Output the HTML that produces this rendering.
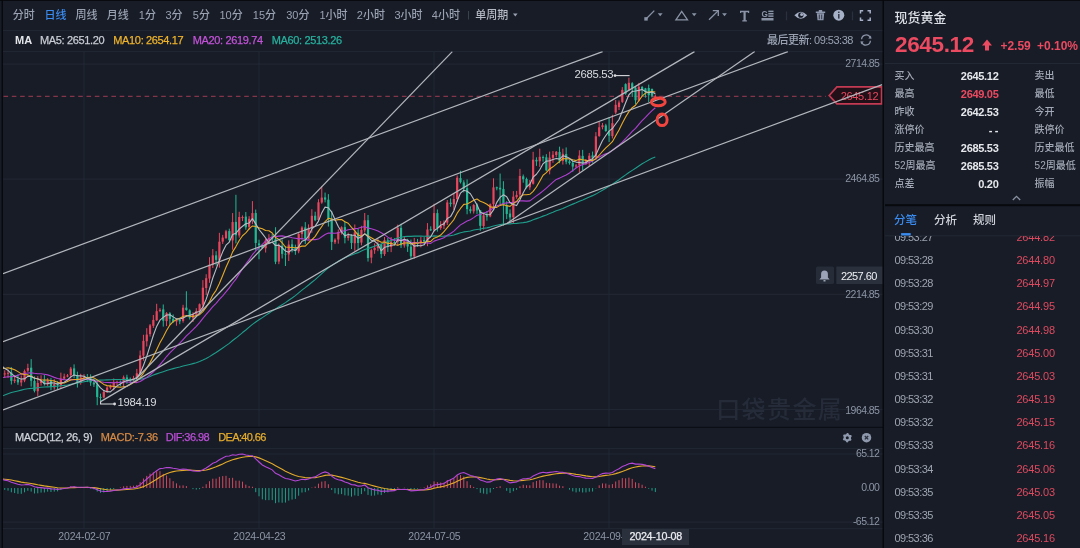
<!DOCTYPE html>
<html><head><meta charset="utf-8"><style>
*{margin:0;padding:0;box-sizing:border-box}
html,body{width:1080px;height:548px;overflow:hidden;background:#171c27}
body{position:relative;font-family:"Liberation Sans","Noto Sans CJK SC",sans-serif}
.t{position:absolute;white-space:nowrap;line-height:1}
#ticks{position:absolute;left:885px;top:236px;width:195px;height:312px;overflow:hidden}
</style></head><body>
<svg width="1080" height="548" viewBox="0 0 1080 548" style="position:absolute;left:0;top:0">
<defs><clipPath id="cm"><rect x="3" y="51.2" width="880" height="375.8"/></clipPath><clipPath id="cd"><rect x="3" y="449" width="825" height="79.5"/></clipPath></defs>
<rect x="0" y="0" width="1080" height="548" fill="#171c27"/>
<line x1="3" x2="883" y1="30.6" y2="30.6" stroke="#232835" stroke-width="1"/>
<line x1="3" x2="883" y1="51.6" y2="51.6" stroke="#232835" stroke-width="1"/>
<line x1="3" x2="883" y1="64.1" y2="64.1" stroke="#232835" stroke-width="1"/>
<line x1="3" x2="883" y1="179.1" y2="179.1" stroke="#232835" stroke-width="1"/>
<line x1="3" x2="883" y1="294.3" y2="294.3" stroke="#232835" stroke-width="1"/>
<line x1="3" x2="883" y1="409.6" y2="409.6" stroke="#232835" stroke-width="1"/>
<line x1="3" x2="883" y1="448.4" y2="448.4" stroke="#232835" stroke-width="1"/>
<line x1="3" x2="883" y1="454.0" y2="454.0" stroke="#232835" stroke-width="1"/>
<line x1="3" x2="883" y1="522.1" y2="522.1" stroke="#232835" stroke-width="1"/>
<line x1="3" x2="883" y1="528.7" y2="528.7" stroke="#232835" stroke-width="1"/>
<line x1="84" x2="84" y1="52" y2="427" stroke="#232835" stroke-width="1"/>
<line x1="84" x2="84" y1="448.4" y2="528.7" stroke="#232835" stroke-width="1"/>
<line x1="259" x2="259" y1="52" y2="427" stroke="#232835" stroke-width="1"/>
<line x1="259" x2="259" y1="448.4" y2="528.7" stroke="#232835" stroke-width="1"/>
<line x1="434" x2="434" y1="52" y2="427" stroke="#232835" stroke-width="1"/>
<line x1="434" x2="434" y1="448.4" y2="528.7" stroke="#232835" stroke-width="1"/>
<line x1="609" x2="609" y1="52" y2="427" stroke="#232835" stroke-width="1"/>
<line x1="609" x2="609" y1="448.4" y2="528.7" stroke="#232835" stroke-width="1"/>
<line x1="3" x2="883" y1="427.4" y2="427.4" stroke="#0b0e14" stroke-width="1.2"/>
<line x1="3.5" x2="826" y1="96.3" y2="96.3" stroke="#83364a" stroke-width="1.2" stroke-dasharray="4.6 3.7"/>
<g clip-path="url(#cm)">
<line x1="1.44" x2="1.44" y1="360.15" y2="380.12" stroke="#22b894" stroke-width="1"/>
<rect x="0.34" y="366.41" width="2.2" height="7.81" fill="#22b894"/>
<line x1="4.74" x2="4.74" y1="370.31" y2="377.92" stroke="#e8465c" stroke-width="1"/>
<rect x="3.64" y="373.44" width="2.2" height="1.00" fill="#e8465c"/>
<line x1="8.04" x2="8.04" y1="369.58" y2="377.99" stroke="#e8465c" stroke-width="1"/>
<rect x="6.94" y="372.80" width="2.2" height="1.03" fill="#e8465c"/>
<line x1="11.34" x2="11.34" y1="367.08" y2="384.54" stroke="#22b894" stroke-width="1"/>
<rect x="10.24" y="372.54" width="2.2" height="8.28" fill="#22b894"/>
<line x1="14.65" x2="14.65" y1="375.78" y2="383.13" stroke="#e8465c" stroke-width="1"/>
<rect x="13.55" y="379.62" width="2.2" height="1.49" fill="#e8465c"/>
<line x1="17.95" x2="17.95" y1="374.25" y2="384.86" stroke="#22b894" stroke-width="1"/>
<rect x="16.85" y="379.34" width="2.2" height="3.04" fill="#22b894"/>
<line x1="21.25" x2="21.25" y1="375.50" y2="386.24" stroke="#e8465c" stroke-width="1"/>
<rect x="20.15" y="380.22" width="2.2" height="2.26" fill="#e8465c"/>
<line x1="24.55" x2="24.55" y1="369.54" y2="382.23" stroke="#e8465c" stroke-width="1"/>
<rect x="23.45" y="371.09" width="2.2" height="9.43" fill="#e8465c"/>
<line x1="27.86" x2="27.86" y1="363.76" y2="372.05" stroke="#e8465c" stroke-width="1"/>
<rect x="26.76" y="368.00" width="2.2" height="2.71" fill="#e8465c"/>
<line x1="31.16" x2="31.16" y1="359.15" y2="386.68" stroke="#22b894" stroke-width="1"/>
<rect x="30.06" y="367.70" width="2.2" height="13.02" fill="#22b894"/>
<line x1="34.46" x2="34.46" y1="376.36" y2="392.42" stroke="#22b894" stroke-width="1"/>
<rect x="33.36" y="380.86" width="2.2" height="9.96" fill="#22b894"/>
<line x1="37.77" x2="37.77" y1="376.12" y2="396.09" stroke="#e8465c" stroke-width="1"/>
<rect x="36.66" y="382.98" width="2.2" height="8.28" fill="#e8465c"/>
<line x1="41.07" x2="41.07" y1="375.28" y2="385.58" stroke="#e8465c" stroke-width="1"/>
<rect x="39.97" y="380.12" width="2.2" height="2.83" fill="#e8465c"/>
<line x1="44.37" x2="44.37" y1="375.06" y2="385.58" stroke="#22b894" stroke-width="1"/>
<rect x="43.27" y="379.78" width="2.2" height="4.08" fill="#22b894"/>
<line x1="47.67" x2="47.67" y1="378.12" y2="385.93" stroke="#e8465c" stroke-width="1"/>
<rect x="46.57" y="380.22" width="2.2" height="3.87" fill="#e8465c"/>
<line x1="50.97" x2="50.97" y1="377.92" y2="390.19" stroke="#22b894" stroke-width="1"/>
<rect x="49.87" y="380.14" width="2.2" height="6.90" fill="#22b894"/>
<line x1="54.28" x2="54.28" y1="379.20" y2="389.70" stroke="#e8465c" stroke-width="1"/>
<rect x="53.18" y="384.09" width="2.2" height="3.29" fill="#e8465c"/>
<line x1="57.58" x2="57.58" y1="381.19" y2="389.41" stroke="#22b894" stroke-width="1"/>
<rect x="56.48" y="384.13" width="2.2" height="1.11" fill="#22b894"/>
<line x1="60.88" x2="60.88" y1="372.64" y2="388.91" stroke="#e8465c" stroke-width="1"/>
<rect x="59.78" y="378.65" width="2.2" height="6.66" fill="#e8465c"/>
<line x1="64.19" x2="64.19" y1="373.64" y2="379.39" stroke="#e8465c" stroke-width="1"/>
<rect x="63.09" y="376.53" width="2.2" height="2.09" fill="#e8465c"/>
<line x1="67.49" x2="67.49" y1="374.02" y2="377.29" stroke="#e8465c" stroke-width="1"/>
<rect x="66.39" y="375.42" width="2.2" height="1.16" fill="#e8465c"/>
<line x1="70.79" x2="70.79" y1="366.92" y2="378.56" stroke="#e8465c" stroke-width="1"/>
<rect x="69.69" y="368.60" width="2.2" height="6.55" fill="#e8465c"/>
<line x1="74.09" x2="74.09" y1="364.37" y2="378.25" stroke="#22b894" stroke-width="1"/>
<rect x="72.99" y="368.39" width="2.2" height="7.21" fill="#22b894"/>
<line x1="77.39" x2="77.39" y1="371.67" y2="387.59" stroke="#22b894" stroke-width="1"/>
<rect x="76.30" y="375.59" width="2.2" height="6.75" fill="#22b894"/>
<line x1="80.70" x2="80.70" y1="373.74" y2="384.71" stroke="#e8465c" stroke-width="1"/>
<rect x="79.60" y="377.40" width="2.2" height="5.29" fill="#e8465c"/>
<line x1="84.00" x2="84.00" y1="374.16" y2="380.07" stroke="#e8465c" stroke-width="1"/>
<rect x="82.90" y="377.54" width="2.2" height="1.00" fill="#e8465c"/>
<line x1="87.30" x2="87.30" y1="374.02" y2="382.08" stroke="#22b894" stroke-width="1"/>
<rect x="86.20" y="377.49" width="2.2" height="1.00" fill="#22b894"/>
<line x1="90.61" x2="90.61" y1="374.34" y2="385.80" stroke="#22b894" stroke-width="1"/>
<rect x="89.51" y="378.10" width="2.2" height="4.46" fill="#22b894"/>
<line x1="93.91" x2="93.91" y1="379.02" y2="386.96" stroke="#22b894" stroke-width="1"/>
<rect x="92.81" y="382.56" width="2.2" height="1.85" fill="#22b894"/>
<line x1="97.21" x2="97.21" y1="379.91" y2="405.22" stroke="#22b894" stroke-width="1"/>
<rect x="96.11" y="384.38" width="2.2" height="12.71" fill="#22b894"/>
<line x1="100.51" x2="100.51" y1="393.67" y2="400.96" stroke="#22b894" stroke-width="1"/>
<rect x="99.41" y="396.90" width="2.2" height="1.00" fill="#22b894"/>
<line x1="103.81" x2="103.81" y1="389.99" y2="398.28" stroke="#e8465c" stroke-width="1"/>
<rect x="102.72" y="391.97" width="2.2" height="5.48" fill="#e8465c"/>
<line x1="107.12" x2="107.12" y1="386.23" y2="392.94" stroke="#e8465c" stroke-width="1"/>
<rect x="106.02" y="387.59" width="2.2" height="4.07" fill="#e8465c"/>
<line x1="110.42" x2="110.42" y1="384.66" y2="389.33" stroke="#e8465c" stroke-width="1"/>
<rect x="109.32" y="385.65" width="2.2" height="1.99" fill="#e8465c"/>
<line x1="113.72" x2="113.72" y1="378.46" y2="390.47" stroke="#e8465c" stroke-width="1"/>
<rect x="112.62" y="382.34" width="2.2" height="3.71" fill="#e8465c"/>
<line x1="117.03" x2="117.03" y1="380.64" y2="385.16" stroke="#e8465c" stroke-width="1"/>
<rect x="115.93" y="381.88" width="2.2" height="1.00" fill="#e8465c"/>
<line x1="120.33" x2="120.33" y1="380.51" y2="386.33" stroke="#22b894" stroke-width="1"/>
<rect x="119.23" y="381.73" width="2.2" height="1.00" fill="#22b894"/>
<line x1="123.63" x2="123.63" y1="375.51" y2="387.48" stroke="#e8465c" stroke-width="1"/>
<rect x="122.53" y="377.31" width="2.2" height="4.64" fill="#e8465c"/>
<line x1="126.93" x2="126.93" y1="374.73" y2="383.88" stroke="#22b894" stroke-width="1"/>
<rect x="125.83" y="377.41" width="2.2" height="1.75" fill="#22b894"/>
<line x1="130.24" x2="130.24" y1="377.54" y2="382.29" stroke="#22b894" stroke-width="1"/>
<rect x="129.14" y="378.85" width="2.2" height="1.09" fill="#22b894"/>
<line x1="133.54" x2="133.54" y1="375.81" y2="381.43" stroke="#e8465c" stroke-width="1"/>
<rect x="132.44" y="377.91" width="2.2" height="2.01" fill="#e8465c"/>
<line x1="136.84" x2="136.84" y1="368.91" y2="378.87" stroke="#e8465c" stroke-width="1"/>
<rect x="135.74" y="373.30" width="2.2" height="4.78" fill="#e8465c"/>
<line x1="140.14" x2="140.14" y1="350.51" y2="374.12" stroke="#e8465c" stroke-width="1"/>
<rect x="139.04" y="355.47" width="2.2" height="17.79" fill="#e8465c"/>
<line x1="143.44" x2="143.44" y1="334.78" y2="360.73" stroke="#e8465c" stroke-width="1"/>
<rect x="142.34" y="340.86" width="2.2" height="14.77" fill="#e8465c"/>
<line x1="146.75" x2="146.75" y1="328.19" y2="346.51" stroke="#e8465c" stroke-width="1"/>
<rect x="145.65" y="334.59" width="2.2" height="6.67" fill="#e8465c"/>
<line x1="150.05" x2="150.05" y1="323.99" y2="336.58" stroke="#e8465c" stroke-width="1"/>
<rect x="148.95" y="325.37" width="2.2" height="8.78" fill="#e8465c"/>
<line x1="153.35" x2="153.35" y1="314.95" y2="327.97" stroke="#e8465c" stroke-width="1"/>
<rect x="152.25" y="319.93" width="2.2" height="5.86" fill="#e8465c"/>
<line x1="156.66" x2="156.66" y1="303.80" y2="320.85" stroke="#e8465c" stroke-width="1"/>
<rect x="155.56" y="311.22" width="2.2" height="9.05" fill="#e8465c"/>
<line x1="159.96" x2="159.96" y1="308.10" y2="312.19" stroke="#e8465c" stroke-width="1"/>
<rect x="158.86" y="309.79" width="2.2" height="1.13" fill="#e8465c"/>
<line x1="163.26" x2="163.26" y1="304.48" y2="326.60" stroke="#22b894" stroke-width="1"/>
<rect x="162.16" y="309.40" width="2.2" height="11.31" fill="#22b894"/>
<line x1="166.56" x2="166.56" y1="312.11" y2="326.07" stroke="#e8465c" stroke-width="1"/>
<rect x="165.46" y="313.16" width="2.2" height="7.94" fill="#e8465c"/>
<line x1="169.87" x2="169.87" y1="312.14" y2="324.72" stroke="#22b894" stroke-width="1"/>
<rect x="168.77" y="313.22" width="2.2" height="5.69" fill="#22b894"/>
<line x1="173.17" x2="173.17" y1="314.47" y2="322.94" stroke="#22b894" stroke-width="1"/>
<rect x="172.07" y="318.79" width="2.2" height="3.07" fill="#22b894"/>
<line x1="176.47" x2="176.47" y1="318.83" y2="325.74" stroke="#e8465c" stroke-width="1"/>
<rect x="175.37" y="319.79" width="2.2" height="1.75" fill="#e8465c"/>
<line x1="179.77" x2="179.77" y1="317.80" y2="324.20" stroke="#22b894" stroke-width="1"/>
<rect x="178.67" y="319.83" width="2.2" height="1.48" fill="#22b894"/>
<line x1="183.07" x2="183.07" y1="304.81" y2="322.66" stroke="#e8465c" stroke-width="1"/>
<rect x="181.97" y="307.67" width="2.2" height="13.25" fill="#e8465c"/>
<line x1="186.38" x2="186.38" y1="291.26" y2="310.71" stroke="#22b894" stroke-width="1"/>
<rect x="185.28" y="307.65" width="2.2" height="2.42" fill="#22b894"/>
<line x1="189.68" x2="189.68" y1="309.39" y2="319.53" stroke="#22b894" stroke-width="1"/>
<rect x="188.58" y="310.38" width="2.2" height="7.25" fill="#22b894"/>
<line x1="192.98" x2="192.98" y1="312.29" y2="322.02" stroke="#e8465c" stroke-width="1"/>
<rect x="191.88" y="314.40" width="2.2" height="3.40" fill="#e8465c"/>
<line x1="196.29" x2="196.29" y1="308.15" y2="316.11" stroke="#e8465c" stroke-width="1"/>
<rect x="195.19" y="311.17" width="2.2" height="3.42" fill="#e8465c"/>
<line x1="199.59" x2="199.59" y1="303.46" y2="313.49" stroke="#e8465c" stroke-width="1"/>
<rect x="198.49" y="304.26" width="2.2" height="7.05" fill="#e8465c"/>
<line x1="202.89" x2="202.89" y1="280.13" y2="310.58" stroke="#e8465c" stroke-width="1"/>
<rect x="201.79" y="287.71" width="2.2" height="16.99" fill="#e8465c"/>
<line x1="206.19" x2="206.19" y1="274.21" y2="295.14" stroke="#e8465c" stroke-width="1"/>
<rect x="205.09" y="278.17" width="2.2" height="9.83" fill="#e8465c"/>
<line x1="209.50" x2="209.50" y1="257.17" y2="282.82" stroke="#e8465c" stroke-width="1"/>
<rect x="208.40" y="264.67" width="2.2" height="13.87" fill="#e8465c"/>
<line x1="212.80" x2="212.80" y1="249.06" y2="268.00" stroke="#e8465c" stroke-width="1"/>
<rect x="211.70" y="255.36" width="2.2" height="9.31" fill="#e8465c"/>
<line x1="216.10" x2="216.10" y1="251.19" y2="265.52" stroke="#22b894" stroke-width="1"/>
<rect x="215.00" y="255.35" width="2.2" height="4.52" fill="#22b894"/>
<line x1="219.40" x2="219.40" y1="232.82" y2="267.68" stroke="#e8465c" stroke-width="1"/>
<rect x="218.30" y="241.72" width="2.2" height="18.30" fill="#e8465c"/>
<line x1="222.71" x2="222.71" y1="234.91" y2="243.97" stroke="#e8465c" stroke-width="1"/>
<rect x="221.61" y="237.57" width="2.2" height="4.02" fill="#e8465c"/>
<line x1="226.01" x2="226.01" y1="229.86" y2="239.08" stroke="#e8465c" stroke-width="1"/>
<rect x="224.91" y="231.30" width="2.2" height="6.68" fill="#e8465c"/>
<line x1="229.31" x2="229.31" y1="228.70" y2="241.83" stroke="#22b894" stroke-width="1"/>
<rect x="228.21" y="231.08" width="2.2" height="8.98" fill="#22b894"/>
<line x1="232.61" x2="232.61" y1="213.08" y2="249.73" stroke="#e8465c" stroke-width="1"/>
<rect x="231.51" y="222.08" width="2.2" height="18.36" fill="#e8465c"/>
<line x1="235.92" x2="235.92" y1="194.80" y2="243.42" stroke="#22b894" stroke-width="1"/>
<rect x="234.82" y="221.92" width="2.2" height="13.29" fill="#22b894"/>
<line x1="239.22" x2="239.22" y1="211.77" y2="237.66" stroke="#e8465c" stroke-width="1"/>
<rect x="238.12" y="217.01" width="2.2" height="18.40" fill="#e8465c"/>
<line x1="242.52" x2="242.52" y1="215.46" y2="221.08" stroke="#e8465c" stroke-width="1"/>
<rect x="241.42" y="217.06" width="2.2" height="1.00" fill="#e8465c"/>
<line x1="245.82" x2="245.82" y1="212.00" y2="229.74" stroke="#22b894" stroke-width="1"/>
<rect x="244.72" y="216.62" width="2.2" height="10.67" fill="#22b894"/>
<line x1="249.12" x2="249.12" y1="216.18" y2="229.79" stroke="#e8465c" stroke-width="1"/>
<rect x="248.03" y="218.81" width="2.2" height="8.05" fill="#e8465c"/>
<line x1="252.43" x2="252.43" y1="201.11" y2="224.06" stroke="#e8465c" stroke-width="1"/>
<rect x="251.33" y="213.05" width="2.2" height="6.22" fill="#e8465c"/>
<line x1="255.73" x2="255.73" y1="209.55" y2="250.68" stroke="#22b894" stroke-width="1"/>
<rect x="254.63" y="213.05" width="2.2" height="29.91" fill="#22b894"/>
<line x1="259.03" x2="259.03" y1="239.73" y2="259.28" stroke="#22b894" stroke-width="1"/>
<rect x="257.93" y="243.42" width="2.2" height="1.85" fill="#22b894"/>
<line x1="262.34" x2="262.34" y1="244.48" y2="248.87" stroke="#22b894" stroke-width="1"/>
<rect x="261.24" y="245.36" width="2.2" height="2.72" fill="#22b894"/>
<line x1="265.64" x2="265.64" y1="238.44" y2="252.55" stroke="#e8465c" stroke-width="1"/>
<rect x="264.54" y="240.56" width="2.2" height="7.69" fill="#e8465c"/>
<line x1="268.94" x2="268.94" y1="234.20" y2="244.06" stroke="#e8465c" stroke-width="1"/>
<rect x="267.84" y="238.12" width="2.2" height="2.42" fill="#e8465c"/>
<line x1="272.24" x2="272.24" y1="233.87" y2="241.13" stroke="#22b894" stroke-width="1"/>
<rect x="271.14" y="237.92" width="2.2" height="1.03" fill="#22b894"/>
<line x1="275.55" x2="275.55" y1="227.21" y2="264.16" stroke="#22b894" stroke-width="1"/>
<rect x="274.44" y="239.11" width="2.2" height="22.65" fill="#22b894"/>
<line x1="278.85" x2="278.85" y1="243.42" y2="264.16" stroke="#e8465c" stroke-width="1"/>
<rect x="277.75" y="246.05" width="2.2" height="15.51" fill="#e8465c"/>
<line x1="282.15" x2="282.15" y1="239.42" y2="258.53" stroke="#22b894" stroke-width="1"/>
<rect x="281.05" y="245.74" width="2.2" height="8.14" fill="#22b894"/>
<line x1="285.45" x2="285.45" y1="246.19" y2="266.01" stroke="#22b894" stroke-width="1"/>
<rect x="284.35" y="253.67" width="2.2" height="1.00" fill="#22b894"/>
<line x1="288.75" x2="288.75" y1="240.38" y2="260.99" stroke="#e8465c" stroke-width="1"/>
<rect x="287.65" y="244.57" width="2.2" height="9.93" fill="#e8465c"/>
<line x1="292.06" x2="292.06" y1="239.46" y2="252.34" stroke="#22b894" stroke-width="1"/>
<rect x="290.96" y="244.29" width="2.2" height="4.43" fill="#22b894"/>
<line x1="295.36" x2="295.36" y1="244.66" y2="254.82" stroke="#22b894" stroke-width="1"/>
<rect x="294.26" y="248.36" width="2.2" height="2.71" fill="#22b894"/>
<line x1="298.66" x2="298.66" y1="233.03" y2="253.28" stroke="#e8465c" stroke-width="1"/>
<rect x="297.56" y="234.02" width="2.2" height="17.30" fill="#e8465c"/>
<line x1="301.97" x2="301.97" y1="226.22" y2="239.67" stroke="#e8465c" stroke-width="1"/>
<rect x="300.87" y="227.52" width="2.2" height="6.63" fill="#e8465c"/>
<line x1="305.27" x2="305.27" y1="222.11" y2="244.15" stroke="#22b894" stroke-width="1"/>
<rect x="304.17" y="227.47" width="2.2" height="11.35" fill="#22b894"/>
<line x1="308.57" x2="308.57" y1="224.37" y2="239.36" stroke="#e8465c" stroke-width="1"/>
<rect x="307.47" y="228.49" width="2.2" height="10.16" fill="#e8465c"/>
<line x1="311.87" x2="311.87" y1="209.23" y2="232.83" stroke="#e8465c" stroke-width="1"/>
<rect x="310.77" y="215.77" width="2.2" height="12.45" fill="#e8465c"/>
<line x1="315.18" x2="315.18" y1="211.74" y2="221.21" stroke="#22b894" stroke-width="1"/>
<rect x="314.07" y="215.73" width="2.2" height="4.46" fill="#22b894"/>
<line x1="318.48" x2="318.48" y1="199.19" y2="221.38" stroke="#e8465c" stroke-width="1"/>
<rect x="317.38" y="202.31" width="2.2" height="17.66" fill="#e8465c"/>
<line x1="321.78" x2="321.78" y1="186.22" y2="203.78" stroke="#e8465c" stroke-width="1"/>
<rect x="320.68" y="197.61" width="2.2" height="4.92" fill="#e8465c"/>
<line x1="325.08" x2="325.08" y1="192.57" y2="202.37" stroke="#22b894" stroke-width="1"/>
<rect x="323.98" y="197.39" width="2.2" height="2.20" fill="#22b894"/>
<line x1="328.38" x2="328.38" y1="194.13" y2="226.55" stroke="#22b894" stroke-width="1"/>
<rect x="327.28" y="199.70" width="2.2" height="19.20" fill="#22b894"/>
<line x1="331.69" x2="331.69" y1="210.81" y2="250.04" stroke="#22b894" stroke-width="1"/>
<rect x="330.59" y="218.65" width="2.2" height="23.25" fill="#22b894"/>
<line x1="334.99" x2="334.99" y1="238.40" y2="244.09" stroke="#e8465c" stroke-width="1"/>
<rect x="333.89" y="239.73" width="2.2" height="2.56" fill="#e8465c"/>
<line x1="338.29" x2="338.29" y1="229.45" y2="243.66" stroke="#e8465c" stroke-width="1"/>
<rect x="337.19" y="231.99" width="2.2" height="7.52" fill="#e8465c"/>
<line x1="341.60" x2="341.60" y1="226.28" y2="234.54" stroke="#e8465c" stroke-width="1"/>
<rect x="340.50" y="227.29" width="2.2" height="5.15" fill="#e8465c"/>
<line x1="344.90" x2="344.90" y1="221.46" y2="243.35" stroke="#22b894" stroke-width="1"/>
<rect x="343.80" y="227.13" width="2.2" height="10.67" fill="#22b894"/>
<line x1="348.20" x2="348.20" y1="232.67" y2="240.68" stroke="#e8465c" stroke-width="1"/>
<rect x="347.10" y="235.59" width="2.2" height="2.41" fill="#e8465c"/>
<line x1="351.50" x2="351.50" y1="234.21" y2="249.04" stroke="#22b894" stroke-width="1"/>
<rect x="350.40" y="235.62" width="2.2" height="7.34" fill="#22b894"/>
<line x1="354.81" x2="354.81" y1="224.44" y2="250.76" stroke="#e8465c" stroke-width="1"/>
<rect x="353.70" y="232.27" width="2.2" height="10.97" fill="#e8465c"/>
<line x1="358.11" x2="358.11" y1="228.78" y2="249.49" stroke="#22b894" stroke-width="1"/>
<rect x="357.01" y="232.71" width="2.2" height="10.29" fill="#22b894"/>
<line x1="361.41" x2="361.41" y1="225.84" y2="245.37" stroke="#e8465c" stroke-width="1"/>
<rect x="360.31" y="230.05" width="2.2" height="12.52" fill="#e8465c"/>
<line x1="364.71" x2="364.71" y1="213.00" y2="232.48" stroke="#e8465c" stroke-width="1"/>
<rect x="363.61" y="220.28" width="2.2" height="10.04" fill="#e8465c"/>
<line x1="368.02" x2="368.02" y1="214.98" y2="261.58" stroke="#22b894" stroke-width="1"/>
<rect x="366.92" y="220.21" width="2.2" height="37.82" fill="#22b894"/>
<line x1="371.32" x2="371.32" y1="248.65" y2="263.28" stroke="#e8465c" stroke-width="1"/>
<rect x="370.22" y="250.15" width="2.2" height="7.46" fill="#e8465c"/>
<line x1="374.62" x2="374.62" y1="243.38" y2="253.83" stroke="#e8465c" stroke-width="1"/>
<rect x="373.52" y="247.85" width="2.2" height="2.30" fill="#e8465c"/>
<line x1="377.92" x2="377.92" y1="238.95" y2="251.16" stroke="#e8465c" stroke-width="1"/>
<rect x="376.82" y="244.02" width="2.2" height="4.07" fill="#e8465c"/>
<line x1="381.23" x2="381.23" y1="243.74" y2="258.11" stroke="#22b894" stroke-width="1"/>
<rect x="380.12" y="244.46" width="2.2" height="9.61" fill="#22b894"/>
<line x1="384.53" x2="384.53" y1="236.99" y2="255.98" stroke="#e8465c" stroke-width="1"/>
<rect x="383.43" y="240.19" width="2.2" height="13.92" fill="#e8465c"/>
<line x1="387.83" x2="387.83" y1="237.87" y2="251.98" stroke="#22b894" stroke-width="1"/>
<rect x="386.73" y="240.34" width="2.2" height="6.22" fill="#22b894"/>
<line x1="391.13" x2="391.13" y1="237.10" y2="252.15" stroke="#e8465c" stroke-width="1"/>
<rect x="390.03" y="241.76" width="2.2" height="5.25" fill="#e8465c"/>
<line x1="394.44" x2="394.44" y1="238.17" y2="245.46" stroke="#22b894" stroke-width="1"/>
<rect x="393.33" y="242.11" width="2.2" height="1.00" fill="#22b894"/>
<line x1="397.74" x2="397.74" y1="224.62" y2="245.72" stroke="#e8465c" stroke-width="1"/>
<rect x="396.64" y="227.75" width="2.2" height="14.15" fill="#e8465c"/>
<line x1="401.04" x2="401.04" y1="223.69" y2="248.03" stroke="#22b894" stroke-width="1"/>
<rect x="399.94" y="227.85" width="2.2" height="17.46" fill="#22b894"/>
<line x1="404.34" x2="404.34" y1="236.60" y2="247.64" stroke="#e8465c" stroke-width="1"/>
<rect x="403.24" y="239.64" width="2.2" height="5.80" fill="#e8465c"/>
<line x1="407.65" x2="407.65" y1="238.79" y2="251.91" stroke="#22b894" stroke-width="1"/>
<rect x="406.55" y="240.06" width="2.2" height="6.40" fill="#22b894"/>
<line x1="410.95" x2="410.95" y1="239.60" y2="258.62" stroke="#22b894" stroke-width="1"/>
<rect x="409.85" y="246.66" width="2.2" height="9.57" fill="#22b894"/>
<line x1="414.25" x2="414.25" y1="237.93" y2="258.70" stroke="#e8465c" stroke-width="1"/>
<rect x="413.15" y="242.82" width="2.2" height="13.63" fill="#e8465c"/>
<line x1="417.55" x2="417.55" y1="238.90" y2="246.84" stroke="#22b894" stroke-width="1"/>
<rect x="416.45" y="242.94" width="2.2" height="1.00" fill="#22b894"/>
<line x1="420.86" x2="420.86" y1="237.04" y2="247.36" stroke="#e8465c" stroke-width="1"/>
<rect x="419.75" y="240.43" width="2.2" height="2.34" fill="#e8465c"/>
<line x1="424.16" x2="424.16" y1="237.13" y2="245.15" stroke="#22b894" stroke-width="1"/>
<rect x="423.06" y="240.02" width="2.2" height="1.56" fill="#22b894"/>
<line x1="427.46" x2="427.46" y1="223.08" y2="246.21" stroke="#e8465c" stroke-width="1"/>
<rect x="426.36" y="229.50" width="2.2" height="12.49" fill="#e8465c"/>
<line x1="430.76" x2="430.76" y1="226.32" y2="231.10" stroke="#22b894" stroke-width="1"/>
<rect x="429.66" y="229.27" width="2.2" height="1.00" fill="#22b894"/>
<line x1="434.06" x2="434.06" y1="203.77" y2="231.70" stroke="#e8465c" stroke-width="1"/>
<rect x="432.96" y="213.09" width="2.2" height="16.73" fill="#e8465c"/>
<line x1="437.37" x2="437.37" y1="209.41" y2="231.61" stroke="#22b894" stroke-width="1"/>
<rect x="436.27" y="213.12" width="2.2" height="15.18" fill="#22b894"/>
<line x1="440.67" x2="440.67" y1="221.10" y2="229.87" stroke="#e8465c" stroke-width="1"/>
<rect x="439.57" y="225.91" width="2.2" height="2.18" fill="#e8465c"/>
<line x1="443.97" x2="443.97" y1="220.42" y2="229.02" stroke="#e8465c" stroke-width="1"/>
<rect x="442.87" y="222.50" width="2.2" height="3.27" fill="#e8465c"/>
<line x1="447.28" x2="447.28" y1="200.00" y2="224.98" stroke="#e8465c" stroke-width="1"/>
<rect x="446.18" y="202.45" width="2.2" height="20.15" fill="#e8465c"/>
<line x1="450.58" x2="450.58" y1="198.47" y2="206.70" stroke="#22b894" stroke-width="1"/>
<rect x="449.48" y="202.72" width="2.2" height="1.34" fill="#22b894"/>
<line x1="453.88" x2="453.88" y1="193.48" y2="210.31" stroke="#e8465c" stroke-width="1"/>
<rect x="452.78" y="198.99" width="2.2" height="5.33" fill="#e8465c"/>
<line x1="457.18" x2="457.18" y1="175.48" y2="201.83" stroke="#e8465c" stroke-width="1"/>
<rect x="456.08" y="177.70" width="2.2" height="21.34" fill="#e8465c"/>
<line x1="460.49" x2="460.49" y1="170.74" y2="183.50" stroke="#22b894" stroke-width="1"/>
<rect x="459.38" y="178.07" width="2.2" height="4.09" fill="#22b894"/>
<line x1="463.79" x2="463.79" y1="180.27" y2="192.41" stroke="#22b894" stroke-width="1"/>
<rect x="462.69" y="182.41" width="2.2" height="6.12" fill="#22b894"/>
<line x1="467.09" x2="467.09" y1="179.39" y2="214.28" stroke="#22b894" stroke-width="1"/>
<rect x="465.99" y="188.17" width="2.2" height="20.96" fill="#22b894"/>
<line x1="470.39" x2="470.39" y1="206.35" y2="213.41" stroke="#22b894" stroke-width="1"/>
<rect x="469.29" y="209.21" width="2.2" height="1.95" fill="#22b894"/>
<line x1="473.70" x2="473.70" y1="204.08" y2="213.56" stroke="#e8465c" stroke-width="1"/>
<rect x="472.60" y="205.12" width="2.2" height="6.19" fill="#e8465c"/>
<line x1="477.00" x2="477.00" y1="203.31" y2="213.92" stroke="#22b894" stroke-width="1"/>
<rect x="475.90" y="204.69" width="2.2" height="5.78" fill="#22b894"/>
<line x1="480.30" x2="480.30" y1="210.24" y2="230.75" stroke="#22b894" stroke-width="1"/>
<rect x="479.20" y="210.35" width="2.2" height="15.47" fill="#22b894"/>
<line x1="483.60" x2="483.60" y1="212.87" y2="229.59" stroke="#e8465c" stroke-width="1"/>
<rect x="482.50" y="215.35" width="2.2" height="10.67" fill="#e8465c"/>
<line x1="486.91" x2="486.91" y1="210.98" y2="220.70" stroke="#22b894" stroke-width="1"/>
<rect x="485.81" y="215.40" width="2.2" height="1.29" fill="#22b894"/>
<line x1="490.21" x2="490.21" y1="203.48" y2="217.28" stroke="#e8465c" stroke-width="1"/>
<rect x="489.11" y="204.34" width="2.2" height="12.01" fill="#e8465c"/>
<line x1="493.51" x2="493.51" y1="178.33" y2="209.25" stroke="#e8465c" stroke-width="1"/>
<rect x="492.41" y="187.38" width="2.2" height="16.77" fill="#e8465c"/>
<line x1="496.81" x2="496.81" y1="186.60" y2="190.32" stroke="#22b894" stroke-width="1"/>
<rect x="495.71" y="187.30" width="2.2" height="1.00" fill="#22b894"/>
<line x1="500.12" x2="500.12" y1="173.55" y2="204.71" stroke="#22b894" stroke-width="1"/>
<rect x="499.01" y="187.77" width="2.2" height="1.64" fill="#22b894"/>
<line x1="503.42" x2="503.42" y1="181.20" y2="225.72" stroke="#22b894" stroke-width="1"/>
<rect x="502.32" y="188.97" width="2.2" height="15.92" fill="#22b894"/>
<line x1="506.72" x2="506.72" y1="201.11" y2="219.11" stroke="#22b894" stroke-width="1"/>
<rect x="505.62" y="205.21" width="2.2" height="8.76" fill="#22b894"/>
<line x1="510.02" x2="510.02" y1="209.40" y2="221.23" stroke="#22b894" stroke-width="1"/>
<rect x="508.92" y="213.56" width="2.2" height="3.86" fill="#22b894"/>
<line x1="513.33" x2="513.33" y1="191.13" y2="223.74" stroke="#e8465c" stroke-width="1"/>
<rect x="512.23" y="196.69" width="2.2" height="20.50" fill="#e8465c"/>
<line x1="516.63" x2="516.63" y1="190.88" y2="198.79" stroke="#e8465c" stroke-width="1"/>
<rect x="515.53" y="194.89" width="2.2" height="2.22" fill="#e8465c"/>
<line x1="519.93" x2="519.93" y1="168.89" y2="198.21" stroke="#e8465c" stroke-width="1"/>
<rect x="518.83" y="175.99" width="2.2" height="18.51" fill="#e8465c"/>
<line x1="523.23" x2="523.23" y1="174.52" y2="182.69" stroke="#22b894" stroke-width="1"/>
<rect x="522.13" y="176.33" width="2.2" height="2.84" fill="#22b894"/>
<line x1="526.54" x2="526.54" y1="177.58" y2="188.52" stroke="#22b894" stroke-width="1"/>
<rect x="525.44" y="178.99" width="2.2" height="8.39" fill="#22b894"/>
<line x1="529.84" x2="529.84" y1="180.01" y2="189.91" stroke="#e8465c" stroke-width="1"/>
<rect x="528.74" y="183.50" width="2.2" height="3.85" fill="#e8465c"/>
<line x1="533.14" x2="533.14" y1="151.84" y2="184.57" stroke="#e8465c" stroke-width="1"/>
<rect x="532.04" y="159.68" width="2.2" height="24.08" fill="#e8465c"/>
<line x1="536.44" x2="536.44" y1="157.33" y2="165.90" stroke="#22b894" stroke-width="1"/>
<rect x="535.34" y="159.86" width="2.2" height="1.52" fill="#22b894"/>
<line x1="539.75" x2="539.75" y1="148.66" y2="166.91" stroke="#e8465c" stroke-width="1"/>
<rect x="538.64" y="156.82" width="2.2" height="4.43" fill="#e8465c"/>
<line x1="543.05" x2="543.05" y1="155.48" y2="161.67" stroke="#22b894" stroke-width="1"/>
<rect x="541.95" y="157.06" width="2.2" height="1.00" fill="#22b894"/>
<line x1="546.35" x2="546.35" y1="154.16" y2="171.23" stroke="#22b894" stroke-width="1"/>
<rect x="545.25" y="157.32" width="2.2" height="13.05" fill="#22b894"/>
<line x1="549.65" x2="549.65" y1="151.62" y2="174.38" stroke="#e8465c" stroke-width="1"/>
<rect x="548.55" y="157.65" width="2.2" height="12.72" fill="#e8465c"/>
<line x1="552.96" x2="552.96" y1="151.02" y2="162.77" stroke="#e8465c" stroke-width="1"/>
<rect x="551.86" y="154.74" width="2.2" height="3.13" fill="#e8465c"/>
<line x1="556.26" x2="556.26" y1="150.99" y2="157.23" stroke="#e8465c" stroke-width="1"/>
<rect x="555.16" y="151.84" width="2.2" height="3.16" fill="#e8465c"/>
<line x1="559.56" x2="559.56" y1="146.66" y2="163.17" stroke="#22b894" stroke-width="1"/>
<rect x="558.46" y="151.91" width="2.2" height="9.24" fill="#22b894"/>
<line x1="562.86" x2="562.86" y1="148.69" y2="164.57" stroke="#e8465c" stroke-width="1"/>
<rect x="561.76" y="153.78" width="2.2" height="7.10" fill="#e8465c"/>
<line x1="566.16" x2="566.16" y1="147.42" y2="164.26" stroke="#22b894" stroke-width="1"/>
<rect x="565.06" y="154.05" width="2.2" height="7.61" fill="#22b894"/>
<line x1="569.47" x2="569.47" y1="159.73" y2="164.68" stroke="#22b894" stroke-width="1"/>
<rect x="568.37" y="161.36" width="2.2" height="1.72" fill="#22b894"/>
<line x1="572.77" x2="572.77" y1="160.75" y2="171.76" stroke="#22b894" stroke-width="1"/>
<rect x="571.67" y="162.85" width="2.2" height="3.70" fill="#22b894"/>
<line x1="576.07" x2="576.07" y1="163.98" y2="168.10" stroke="#e8465c" stroke-width="1"/>
<rect x="574.97" y="165.39" width="2.2" height="1.16" fill="#e8465c"/>
<line x1="579.38" x2="579.38" y1="150.28" y2="172.72" stroke="#e8465c" stroke-width="1"/>
<rect x="578.27" y="155.57" width="2.2" height="9.89" fill="#e8465c"/>
<line x1="582.68" x2="582.68" y1="149.86" y2="170.14" stroke="#22b894" stroke-width="1"/>
<rect x="581.58" y="155.90" width="2.2" height="8.52" fill="#22b894"/>
<line x1="585.98" x2="585.98" y1="159.01" y2="164.92" stroke="#e8465c" stroke-width="1"/>
<rect x="584.88" y="160.37" width="2.2" height="3.62" fill="#e8465c"/>
<line x1="589.28" x2="589.28" y1="152.96" y2="166.16" stroke="#e8465c" stroke-width="1"/>
<rect x="588.18" y="155.71" width="2.2" height="5.06" fill="#e8465c"/>
<line x1="592.59" x2="592.59" y1="151.55" y2="162.59" stroke="#22b894" stroke-width="1"/>
<rect x="591.49" y="155.36" width="2.2" height="2.29" fill="#22b894"/>
<line x1="595.89" x2="595.89" y1="132.12" y2="159.94" stroke="#e8465c" stroke-width="1"/>
<rect x="594.79" y="136.35" width="2.2" height="20.90" fill="#e8465c"/>
<line x1="599.19" x2="599.19" y1="121.74" y2="136.85" stroke="#e8465c" stroke-width="1"/>
<rect x="598.09" y="127.27" width="2.2" height="8.68" fill="#e8465c"/>
<line x1="602.49" x2="602.49" y1="123.00" y2="129.35" stroke="#e8465c" stroke-width="1"/>
<rect x="601.39" y="125.25" width="2.2" height="1.88" fill="#e8465c"/>
<line x1="605.80" x2="605.80" y1="123.79" y2="131.76" stroke="#22b894" stroke-width="1"/>
<rect x="604.70" y="125.40" width="2.2" height="5.65" fill="#22b894"/>
<line x1="609.10" x2="609.10" y1="117.04" y2="142.02" stroke="#22b894" stroke-width="1"/>
<rect x="608.00" y="131.26" width="2.2" height="4.50" fill="#22b894"/>
<line x1="612.40" x2="612.40" y1="114.78" y2="138.45" stroke="#e8465c" stroke-width="1"/>
<rect x="611.30" y="123.17" width="2.2" height="12.93" fill="#e8465c"/>
<line x1="615.70" x2="615.70" y1="100.00" y2="114.00" stroke="#e8465c" stroke-width="1"/>
<rect x="614.60" y="104.80" width="2.2" height="7.70" fill="#e8465c"/>
<line x1="619.00" x2="619.00" y1="100.50" y2="110.00" stroke="#e8465c" stroke-width="1"/>
<rect x="617.90" y="102.50" width="2.2" height="4.50" fill="#e8465c"/>
<line x1="622.31" x2="622.31" y1="87.10" y2="103.00" stroke="#e8465c" stroke-width="1"/>
<rect x="621.21" y="89.90" width="2.2" height="12.00" fill="#e8465c"/>
<line x1="625.61" x2="625.61" y1="83.30" y2="94.80" stroke="#22b894" stroke-width="1"/>
<rect x="624.51" y="84.10" width="2.2" height="9.60" fill="#22b894"/>
<line x1="628.91" x2="628.91" y1="77.71" y2="91.00" stroke="#e8465c" stroke-width="1"/>
<rect x="627.81" y="82.80" width="2.2" height="7.10" fill="#e8465c"/>
<line x1="632.22" x2="632.22" y1="82.20" y2="97.00" stroke="#22b894" stroke-width="1"/>
<rect x="631.12" y="83.30" width="2.2" height="4.90" fill="#22b894"/>
<line x1="635.52" x2="635.52" y1="86.50" y2="104.30" stroke="#22b894" stroke-width="1"/>
<rect x="634.42" y="87.70" width="2.2" height="12.60" fill="#22b894"/>
<line x1="638.82" x2="638.82" y1="82.90" y2="101.50" stroke="#e8465c" stroke-width="1"/>
<rect x="637.72" y="86.80" width="2.2" height="13.70" fill="#e8465c"/>
<line x1="642.12" x2="642.12" y1="86.00" y2="96.10" stroke="#22b894" stroke-width="1"/>
<rect x="641.02" y="87.00" width="2.2" height="2.50" fill="#22b894"/>
<line x1="645.43" x2="645.43" y1="87.90" y2="97.70" stroke="#22b894" stroke-width="1"/>
<rect x="644.33" y="88.40" width="2.2" height="3.80" fill="#22b894"/>
<line x1="648.73" x2="648.73" y1="84.60" y2="102.00" stroke="#22b894" stroke-width="1"/>
<rect x="647.63" y="88.00" width="2.2" height="7.20" fill="#22b894"/>
<line x1="652.03" x2="652.03" y1="88.50" y2="97.50" stroke="#22b894" stroke-width="1"/>
<rect x="650.93" y="89.00" width="2.2" height="6.80" fill="#22b894"/>
<line x1="655.33" x2="655.33" y1="94.53" y2="99.44" stroke="#e8465c" stroke-width="1"/>
<rect x="654.23" y="96.34" width="2.2" height="1.19" fill="#e8465c"/>
<polyline points="-1.87,397.82 1.44,396.43 4.74,395.03 8.04,393.71 11.34,392.48 14.65,391.73 17.95,390.92 21.25,390.11 24.55,389.32 27.86,388.70 31.16,388.33 34.46,388.08 37.77,387.68 41.07,387.29 44.37,387.01 47.67,386.83 50.97,386.69 54.28,386.40 57.58,386.12 60.88,385.76 64.19,385.41 67.49,384.94 70.79,384.28 74.09,383.60 77.39,383.08 80.70,382.35 84.00,381.67 87.30,381.12 90.61,380.62 93.91,380.32 97.21,380.23 100.51,380.12 103.81,380.07 107.12,379.89 110.42,379.70 113.72,379.53 117.03,379.44 120.33,379.56 123.63,379.63 126.93,379.66 130.24,379.99 133.54,379.95 136.84,379.75 140.14,379.31 143.44,378.64 146.75,377.69 150.05,376.41 153.35,375.02 156.66,373.86 159.96,372.73 163.26,371.66 166.56,370.53 169.87,369.59 173.17,368.63 176.47,367.75 179.77,366.96 183.07,366.04 186.38,365.24 189.68,364.47 192.98,363.63 196.29,362.71 199.59,361.54 202.89,360.11 206.19,358.54 209.50,356.60 212.80,354.53 216.10,352.49 219.40,350.18 222.71,347.95 226.01,345.67 229.31,343.33 232.61,340.52 235.92,338.06 239.22,335.34 242.52,332.56 245.82,330.01 249.12,327.20 252.43,324.35 255.73,321.98 259.03,319.76 262.34,317.62 265.64,315.37 268.94,313.20 272.24,310.92 275.55,308.91 278.85,306.72 282.15,304.66 285.45,302.60 288.75,300.30 292.06,298.04 295.36,295.60 298.66,292.88 301.97,290.14 305.27,287.66 308.57,285.04 311.87,282.27 315.18,279.57 318.48,276.57 321.78,273.58 325.08,270.58 328.38,267.90 331.69,265.63 334.99,263.41 338.29,261.35 341.60,259.46 344.90,257.84 348.20,256.35 351.50,255.06 354.81,253.75 358.11,252.64 361.41,251.12 364.71,249.58 368.02,248.56 371.32,247.37 374.62,246.17 377.92,244.88 381.23,243.99 384.53,242.82 387.83,241.64 391.13,240.43 394.44,239.28 397.74,238.00 401.04,237.30 404.34,236.65 407.65,236.35 410.95,236.37 414.25,236.08 417.55,236.10 420.86,236.15 424.16,236.32 427.46,236.15 430.76,236.27 434.06,235.90 437.37,236.09 440.67,236.24 443.97,236.16 447.28,235.88 450.58,235.73 453.88,235.00 457.18,233.87 460.49,232.78 463.79,231.91 467.09,231.43 470.39,230.96 473.70,230.02 477.00,229.42 480.30,228.96 483.60,228.30 486.91,227.84 490.21,227.10 493.51,226.04 496.81,225.27 500.12,224.64 503.42,224.07 506.72,223.83 510.02,223.86 513.33,223.47 516.63,223.34 519.93,222.98 523.23,222.64 526.54,222.12 529.84,221.14 533.14,219.81 536.44,218.63 539.75,217.46 543.05,216.12 546.35,215.03 549.65,213.61 552.96,212.32 556.26,210.80 559.56,209.65 562.86,208.54 566.16,206.94 569.47,205.49 572.77,204.13 576.07,202.82 579.38,201.18 582.68,199.92 585.98,198.48 589.28,197.05 592.59,195.63 595.89,194.11 599.19,192.14 602.49,190.24 605.80,188.31 609.10,186.31 612.40,184.31 615.70,182.01 619.00,179.71 622.31,177.18 625.61,174.92 628.91,172.47 632.22,170.39 635.52,168.26 638.82,165.94 642.12,163.72 645.43,161.89 648.73,160.07 652.03,158.35 655.33,157.00" fill="none" stroke="#1f9c8a" stroke-width="1.1" stroke-linejoin="round"/>
<polyline points="-1.87,378.10 1.44,377.79 4.74,377.22 8.04,376.75 11.34,376.75 14.65,376.14 17.95,375.16 21.25,374.01 24.55,373.50 27.86,373.05 31.16,372.84 34.46,373.32 37.77,373.70 41.07,373.74 44.37,374.31 47.67,374.86 50.97,376.07 54.28,377.37 57.58,378.44 60.88,379.14 64.19,379.64 67.49,379.70 70.79,379.46 74.09,379.60 77.39,379.68 80.70,379.57 84.00,379.32 87.30,379.22 90.61,379.79 93.91,380.61 97.21,381.43 100.51,381.75 103.81,382.20 107.12,382.57 110.42,382.66 113.72,382.77 117.03,382.51 120.33,382.42 123.63,382.03 126.93,382.05 130.24,382.22 133.54,382.35 136.84,382.58 140.14,381.58 143.44,379.50 146.75,377.36 150.05,374.75 153.35,371.85 156.66,368.28 159.96,364.55 163.26,360.73 166.56,356.53 169.87,352.87 173.17,349.59 176.47,346.29 179.77,343.24 183.07,339.53 186.38,335.92 189.68,332.93 192.98,329.69 196.29,326.26 199.59,322.57 202.89,318.29 206.19,314.43 209.50,310.62 212.80,306.66 216.10,303.38 219.40,299.47 222.71,295.79 226.01,291.87 229.31,287.83 232.61,283.28 235.92,279.09 239.22,273.85 242.52,268.72 245.82,264.01 249.12,259.57 252.43,254.72 255.73,250.99 259.03,247.53 262.34,244.38 265.64,241.19 268.94,238.71 272.24,236.75 275.55,236.60 278.85,236.14 282.15,235.84 285.45,236.48 288.75,236.83 292.06,237.70 295.36,238.25 298.66,238.85 301.97,238.46 305.27,239.55 308.57,240.13 311.87,239.55 315.18,239.62 318.48,239.08 321.78,236.81 325.08,234.53 328.38,233.07 331.69,233.14 334.99,233.22 338.29,232.87 341.60,231.15 344.90,230.73 348.20,229.82 351.50,229.24 354.81,228.63 358.11,228.34 361.41,227.29 364.71,226.60 368.02,228.13 371.32,228.70 374.62,229.66 377.92,231.08 381.23,232.77 384.53,234.66 387.83,237.11 391.13,239.22 394.44,240.39 397.74,239.68 401.04,239.96 404.34,240.34 407.65,241.30 410.95,242.22 414.25,242.58 417.55,242.59 420.86,243.00 424.16,242.93 427.46,242.90 430.76,243.35 434.06,241.11 437.37,240.01 440.67,238.92 443.97,237.84 447.28,235.26 450.58,233.45 453.88,231.08 457.18,227.87 460.49,224.87 463.79,222.91 467.09,221.10 470.39,219.67 473.70,217.61 477.00,215.32 480.30,214.47 483.60,213.08 486.91,211.90 490.21,210.03 493.51,207.93 496.81,205.86 500.12,204.68 503.42,203.51 506.72,202.91 510.02,202.66 513.33,202.37 516.63,201.91 519.93,200.76 523.23,200.84 526.54,201.10 529.84,200.85 533.14,198.37 536.44,195.88 539.75,193.47 543.05,190.82 546.35,188.05 549.65,185.16 552.96,182.07 556.26,179.44 559.56,178.13 562.86,176.41 566.16,175.02 569.47,172.93 572.77,170.56 576.07,167.96 579.38,165.90 582.68,164.38 585.98,163.60 589.28,162.43 592.59,160.94 595.89,158.58 599.19,156.96 602.49,155.16 605.80,153.87 609.10,152.78 612.40,150.42 615.70,147.78 619.00,145.17 622.31,142.07 625.61,138.70 628.91,135.15 632.22,131.47 635.52,128.34 638.82,124.35 642.12,120.55 645.43,117.39 648.73,113.92 652.03,110.70 655.33,107.73" fill="none" stroke="#b03fd0" stroke-width="1.1" stroke-linejoin="round"/>
<polyline points="-1.87,369.34 1.44,368.64 4.74,368.46 8.04,367.80 11.34,368.64 14.65,369.68 17.95,371.63 21.25,373.84 24.55,374.57 27.86,374.91 31.16,376.33 34.46,377.99 37.77,378.94 41.07,379.68 44.37,379.98 47.67,380.04 50.97,380.51 54.28,380.89 57.58,382.31 60.88,383.37 64.19,382.95 67.49,381.41 70.79,379.98 74.09,379.52 77.39,379.37 80.70,379.09 84.00,378.14 87.30,377.54 90.61,377.27 93.91,377.85 97.21,379.90 100.51,382.08 103.81,384.42 107.12,385.62 110.42,385.95 113.72,386.44 117.03,386.88 120.33,387.31 123.63,386.78 126.93,386.26 130.24,384.54 133.54,382.61 136.84,380.75 140.14,377.53 143.44,373.05 146.75,368.28 150.05,362.63 153.35,356.38 156.66,349.77 159.96,342.84 163.26,336.91 166.56,330.44 169.87,325.00 173.17,321.64 176.47,319.53 179.77,318.21 183.07,316.44 186.38,315.45 189.68,316.09 192.98,316.55 196.29,315.60 199.59,314.71 202.89,311.59 206.19,307.22 209.50,301.71 212.80,295.11 216.10,290.33 219.40,283.50 222.71,275.49 226.01,267.18 229.31,260.07 232.61,251.85 235.92,246.60 239.22,240.49 242.52,235.72 245.82,232.92 249.12,228.81 252.43,225.94 255.73,226.48 259.03,227.88 262.34,228.68 265.64,230.53 268.94,230.82 272.24,233.01 275.55,237.48 278.85,239.36 282.15,242.87 285.45,247.02 288.75,247.18 292.06,247.52 295.36,247.82 298.66,247.17 301.97,246.11 305.27,246.09 308.57,242.77 311.87,239.74 315.18,236.37 318.48,231.15 321.78,226.45 325.08,221.54 328.38,218.32 331.69,219.11 334.99,220.33 338.29,219.65 341.60,219.53 344.90,221.73 348.20,223.27 351.50,227.34 354.81,230.80 358.11,235.14 361.41,236.26 364.71,234.10 368.02,235.93 371.32,237.74 374.62,239.80 377.92,240.42 381.23,242.27 384.53,241.99 387.83,243.42 391.13,243.30 394.44,244.52 397.74,245.26 401.04,243.99 404.34,242.94 407.65,242.80 410.95,244.02 414.25,242.90 417.55,243.19 420.86,242.57 424.16,242.55 427.46,241.28 430.76,241.44 434.06,238.22 437.37,237.09 440.67,235.03 443.97,231.66 447.28,227.62 450.58,223.72 453.88,219.58 457.18,213.19 460.49,208.46 463.79,204.37 467.09,203.97 470.39,202.26 473.70,200.18 477.00,198.98 480.30,201.31 483.60,202.44 486.91,204.21 490.21,206.88 493.51,207.40 496.81,207.36 500.12,205.39 503.42,204.76 506.72,205.65 510.02,206.34 513.33,203.43 516.63,201.38 519.93,197.31 523.23,194.80 526.54,194.80 529.84,194.33 533.14,191.36 536.44,187.01 539.75,181.29 543.05,175.30 546.35,172.67 549.65,168.94 552.96,166.82 556.26,164.09 559.56,161.46 562.86,158.49 566.16,158.69 569.47,158.86 572.77,159.83 576.07,160.62 579.38,159.14 582.68,159.82 585.98,160.38 589.28,160.77 592.59,160.42 595.89,158.68 599.19,155.24 602.49,151.45 605.80,147.90 609.10,144.94 612.40,141.70 615.70,135.74 619.00,129.95 622.31,123.37 625.61,116.98 628.91,111.62 632.22,107.71 635.52,105.22 638.82,100.79 642.12,96.17 645.43,93.07 648.73,92.11 652.03,91.44 655.33,92.08" fill="none" stroke="#e6a927" stroke-width="1.1" stroke-linejoin="round"/>
<polyline points="-1.87,363.17 1.44,365.46 4.74,368.51 8.04,370.33 11.34,373.56 14.65,376.18 17.95,377.81 21.25,379.17 24.55,378.82 27.86,376.26 31.16,376.48 34.46,378.17 37.77,378.72 41.07,380.53 44.37,383.70 47.67,383.60 50.97,382.84 54.28,383.06 57.58,384.09 60.88,383.05 64.19,382.31 67.49,379.99 70.79,376.89 74.09,374.96 77.39,375.70 80.70,375.87 84.00,376.30 87.30,378.19 90.61,379.58 93.91,379.99 97.21,383.93 100.51,387.87 103.81,390.65 107.12,391.66 110.42,391.90 113.72,388.95 117.03,385.89 120.33,383.97 123.63,381.91 126.93,380.61 130.24,380.13 133.54,379.34 136.84,377.52 140.14,373.16 143.44,365.49 146.75,356.42 150.05,345.92 153.35,335.24 156.66,326.39 159.96,320.18 163.26,317.40 166.56,314.96 169.87,314.76 173.17,316.89 176.47,318.89 179.77,319.01 183.07,317.91 186.38,316.14 189.68,315.29 192.98,314.22 196.29,312.19 199.59,311.51 202.89,307.03 206.19,299.14 209.50,289.20 212.80,278.03 216.10,269.16 219.40,259.96 222.71,251.84 226.01,245.16 229.31,242.10 232.61,234.54 235.92,233.24 239.22,229.13 242.52,226.28 245.82,223.73 249.12,223.08 252.43,218.64 255.73,223.83 259.03,229.47 262.34,233.63 265.64,237.98 268.94,243.00 272.24,242.19 275.55,245.50 278.85,245.09 282.15,247.75 285.45,251.04 288.75,252.16 292.06,249.55 295.36,250.56 298.66,246.58 301.97,241.18 305.27,240.03 308.57,235.98 311.87,228.92 315.18,226.16 318.48,221.11 321.78,212.87 325.08,207.09 328.38,207.72 331.69,212.06 334.99,219.55 338.29,226.42 341.60,231.96 344.90,235.74 348.20,234.48 351.50,235.12 354.81,235.18 358.11,238.32 361.41,236.77 364.71,233.71 368.02,236.73 371.32,240.31 374.62,241.27 377.92,244.07 381.23,250.82 384.53,247.26 387.83,246.54 391.13,245.32 394.44,244.97 397.74,239.71 401.04,240.73 404.34,239.35 407.65,240.29 410.95,243.08 414.25,246.09 417.55,245.64 420.86,245.80 424.16,244.82 427.46,239.48 430.76,236.79 434.06,230.80 437.37,228.38 440.67,225.24 443.97,223.84 447.28,218.45 450.58,216.64 453.88,210.78 457.18,201.14 460.49,193.07 463.79,190.29 467.09,191.30 470.39,193.74 473.70,199.22 477.00,204.88 480.30,212.34 483.60,213.58 486.91,214.69 490.21,214.53 493.51,209.91 496.81,202.38 500.12,197.19 503.42,194.83 506.72,196.76 510.02,202.77 513.33,204.47 516.63,205.57 519.93,199.79 523.23,192.83 526.54,186.82 529.84,184.19 533.14,177.14 536.44,174.22 539.75,169.75 543.05,163.78 546.35,161.15 549.65,160.74 552.96,159.42 556.26,158.42 559.56,159.15 562.86,155.83 566.16,156.63 569.47,158.30 572.77,161.24 576.07,162.09 579.38,162.45 582.68,163.00 585.98,162.46 589.28,160.29 592.59,158.74 595.89,154.90 599.19,147.47 602.49,140.45 605.80,135.52 609.10,131.14 612.40,128.50 615.70,124.01 619.00,119.46 622.31,111.23 625.61,102.81 628.91,94.74 632.22,91.42 635.52,90.98 638.82,90.36 642.12,89.52 645.43,91.40 648.73,92.80 652.03,91.90 655.33,93.81" fill="none" stroke="#b9bdc5" stroke-width="1.1" stroke-linejoin="round"/>
</g>
<polygon points="829.2,95.5 836.9,86.9 881.6,86.9 881.6,103.8 836.9,103.8" fill="#221018" stroke="#c43a52" stroke-width="1.7"/>
<text x="878.3" y="99.8" text-anchor="end" font-family="Liberation Sans, sans-serif" font-size="11" letter-spacing="-0.3" fill="#e5485e">2645.12</text>
<g clip-path="url(#cm)">
<line x1="3" y1="273.6" x2="602.6" y2="51.6" stroke="#b3b6bc" stroke-width="1.25"/>
<line x1="3" y1="341.7" x2="787.9" y2="51.6" stroke="#b3b6bc" stroke-width="1.25"/>
<line x1="3" y1="410.0" x2="882.2" y2="84.6" stroke="#b3b6bc" stroke-width="1.25"/>
<line x1="100.6" y1="401.6" x2="694.5" y2="51.6" stroke="#b3b6bc" stroke-width="1.25"/>
<line x1="136" y1="379" x2="452.3" y2="51.6" stroke="#b3b6bc" stroke-width="1.25"/>
<line x1="507" y1="223.4" x2="754.7" y2="51.6" stroke="#b3b6bc" stroke-width="1.25"/>
</g>
<polyline points="100.6,401.2 100.6,404.0 114.6,404.0" fill="none" stroke="#d8dade" stroke-width="1.1"/><circle cx="114.6" cy="404.0" r="1.4" fill="#d8dade"/>
<line x1="615" x2="629.6" y1="75.6" y2="75.6" stroke="#d8dade" stroke-width="1.1"/><circle cx="615" cy="75.6" r="1.4" fill="#d8dade"/>
<ellipse cx="658.3" cy="101.9" rx="6.9" ry="3.9" fill="none" stroke="#f2453f" stroke-width="3"/>
<ellipse cx="662.1" cy="119.8" rx="5.0" ry="5.8" fill="none" stroke="#f2453f" stroke-width="3"/>
<rect x="816" y="266.5" width="18" height="17.5" rx="1.5" fill="#262c38"/>
<rect x="836.3" y="266.5" width="46.5" height="17.5" fill="#2a303c"/>
<path d="M819.4 279.4h10.2l-1.7-2v-3.4a3.4 3.6 0 0 0-6.8 0v3.4z M823.5 280.1h2.0v1.4h-2.0z" fill="#9aa3b8"/>
<g clip-path="url(#cd)">
<line x1="1.44" x2="1.44" y1="488.05" y2="488.61" stroke="#1f9f88" stroke-width="1"/>
<line x1="4.74" x2="4.74" y1="488.05" y2="489.86" stroke="#1f9f88" stroke-width="1"/>
<line x1="8.04" x2="8.04" y1="488.05" y2="490.62" stroke="#1f9f88" stroke-width="1"/>
<line x1="11.34" x2="11.34" y1="488.05" y2="492.28" stroke="#1f9f88" stroke-width="1"/>
<line x1="14.65" x2="14.65" y1="488.05" y2="493.07" stroke="#1f9f88" stroke-width="1"/>
<line x1="17.95" x2="17.95" y1="488.05" y2="493.84" stroke="#1f9f88" stroke-width="1"/>
<line x1="21.25" x2="21.25" y1="488.05" y2="493.82" stroke="#1f9f88" stroke-width="1"/>
<line x1="24.55" x2="24.55" y1="488.05" y2="492.30" stroke="#1f9f88" stroke-width="1"/>
<line x1="27.86" x2="27.86" y1="488.05" y2="490.77" stroke="#1f9f88" stroke-width="1"/>
<line x1="31.16" x2="31.16" y1="488.05" y2="491.60" stroke="#1f9f88" stroke-width="1"/>
<line x1="34.46" x2="34.46" y1="488.05" y2="493.48" stroke="#1f9f88" stroke-width="1"/>
<line x1="37.77" x2="37.77" y1="488.05" y2="493.32" stroke="#1f9f88" stroke-width="1"/>
<line x1="41.07" x2="41.07" y1="488.05" y2="492.58" stroke="#1f9f88" stroke-width="1"/>
<line x1="44.37" x2="44.37" y1="488.05" y2="492.47" stroke="#1f9f88" stroke-width="1"/>
<line x1="47.67" x2="47.67" y1="488.05" y2="491.69" stroke="#1f9f88" stroke-width="1"/>
<line x1="50.97" x2="50.97" y1="488.05" y2="492.02" stroke="#1f9f88" stroke-width="1"/>
<line x1="54.28" x2="54.28" y1="488.05" y2="491.62" stroke="#1f9f88" stroke-width="1"/>
<line x1="57.58" x2="57.58" y1="488.05" y2="491.36" stroke="#1f9f88" stroke-width="1"/>
<line x1="60.88" x2="60.88" y1="488.05" y2="490.07" stroke="#1f9f88" stroke-width="1"/>
<line x1="64.19" x2="64.19" y1="488.05" y2="488.86" stroke="#1f9f88" stroke-width="1"/>
<line x1="67.49" x2="67.49" y1="488.05" y2="487.89" stroke="#d4495f" stroke-width="1"/>
<line x1="70.79" x2="70.79" y1="488.05" y2="486.31" stroke="#d4495f" stroke-width="1"/>
<line x1="74.09" x2="74.09" y1="488.05" y2="486.43" stroke="#d4495f" stroke-width="1"/>
<line x1="77.39" x2="77.39" y1="488.05" y2="487.57" stroke="#d4495f" stroke-width="1"/>
<line x1="80.70" x2="80.70" y1="488.05" y2="487.60" stroke="#d4495f" stroke-width="1"/>
<line x1="84.00" x2="84.00" y1="488.05" y2="487.68" stroke="#d4495f" stroke-width="1"/>
<line x1="87.30" x2="87.30" y1="488.05" y2="487.83" stroke="#d4495f" stroke-width="1"/>
<line x1="90.61" x2="90.61" y1="488.05" y2="488.60" stroke="#1f9f88" stroke-width="1"/>
<line x1="93.91" x2="93.91" y1="488.05" y2="489.33" stroke="#1f9f88" stroke-width="1"/>
<line x1="97.21" x2="97.21" y1="488.05" y2="491.57" stroke="#1f9f88" stroke-width="1"/>
<line x1="100.51" x2="100.51" y1="488.05" y2="492.80" stroke="#1f9f88" stroke-width="1"/>
<line x1="103.81" x2="103.81" y1="488.05" y2="492.55" stroke="#1f9f88" stroke-width="1"/>
<line x1="107.12" x2="107.12" y1="488.05" y2="491.51" stroke="#1f9f88" stroke-width="1"/>
<line x1="110.42" x2="110.42" y1="488.05" y2="490.36" stroke="#1f9f88" stroke-width="1"/>
<line x1="113.72" x2="113.72" y1="488.05" y2="489.00" stroke="#1f9f88" stroke-width="1"/>
<line x1="117.03" x2="117.03" y1="488.05" y2="488.00" stroke="#d4495f" stroke-width="1"/>
<line x1="120.33" x2="120.33" y1="488.05" y2="487.41" stroke="#d4495f" stroke-width="1"/>
<line x1="123.63" x2="123.63" y1="488.05" y2="486.30" stroke="#d4495f" stroke-width="1"/>
<line x1="126.93" x2="126.93" y1="488.05" y2="485.94" stroke="#d4495f" stroke-width="1"/>
<line x1="130.24" x2="130.24" y1="488.05" y2="485.90" stroke="#d4495f" stroke-width="1"/>
<line x1="133.54" x2="133.54" y1="488.05" y2="485.68" stroke="#d4495f" stroke-width="1"/>
<line x1="136.84" x2="136.84" y1="488.05" y2="484.98" stroke="#d4495f" stroke-width="1"/>
<line x1="140.14" x2="140.14" y1="488.05" y2="482.11" stroke="#d4495f" stroke-width="1"/>
<line x1="143.44" x2="143.44" y1="488.05" y2="478.51" stroke="#d4495f" stroke-width="1"/>
<line x1="146.75" x2="146.75" y1="488.05" y2="475.87" stroke="#d4495f" stroke-width="1"/>
<line x1="150.05" x2="150.05" y1="488.05" y2="473.58" stroke="#d4495f" stroke-width="1"/>
<line x1="153.35" x2="153.35" y1="488.05" y2="472.20" stroke="#d4495f" stroke-width="1"/>
<line x1="156.66" x2="156.66" y1="488.05" y2="471.02" stroke="#d4495f" stroke-width="1"/>
<line x1="159.96" x2="159.96" y1="488.05" y2="471.13" stroke="#d4495f" stroke-width="1"/>
<line x1="163.26" x2="163.26" y1="488.05" y2="473.87" stroke="#d4495f" stroke-width="1"/>
<line x1="166.56" x2="166.56" y1="488.05" y2="475.47" stroke="#d4495f" stroke-width="1"/>
<line x1="169.87" x2="169.87" y1="488.05" y2="478.23" stroke="#d4495f" stroke-width="1"/>
<line x1="173.17" x2="173.17" y1="488.05" y2="481.18" stroke="#d4495f" stroke-width="1"/>
<line x1="176.47" x2="176.47" y1="488.05" y2="483.39" stroke="#d4495f" stroke-width="1"/>
<line x1="179.77" x2="179.77" y1="488.05" y2="485.55" stroke="#d4495f" stroke-width="1"/>
<line x1="183.07" x2="183.07" y1="488.05" y2="485.37" stroke="#d4495f" stroke-width="1"/>
<line x1="186.38" x2="186.38" y1="488.05" y2="486.07" stroke="#d4495f" stroke-width="1"/>
<line x1="189.68" x2="189.68" y1="488.05" y2="488.03" stroke="#d4495f" stroke-width="1"/>
<line x1="192.98" x2="192.98" y1="488.05" y2="489.12" stroke="#1f9f88" stroke-width="1"/>
<line x1="196.29" x2="196.29" y1="488.05" y2="489.61" stroke="#1f9f88" stroke-width="1"/>
<line x1="199.59" x2="199.59" y1="488.05" y2="489.15" stroke="#1f9f88" stroke-width="1"/>
<line x1="202.89" x2="202.89" y1="488.05" y2="486.72" stroke="#d4495f" stroke-width="1"/>
<line x1="206.19" x2="206.19" y1="488.05" y2="484.21" stroke="#d4495f" stroke-width="1"/>
<line x1="209.50" x2="209.50" y1="488.05" y2="481.21" stroke="#d4495f" stroke-width="1"/>
<line x1="212.80" x2="212.80" y1="488.05" y2="478.69" stroke="#d4495f" stroke-width="1"/>
<line x1="216.10" x2="216.10" y1="488.05" y2="478.62" stroke="#d4495f" stroke-width="1"/>
<line x1="219.40" x2="219.40" y1="488.05" y2="476.83" stroke="#d4495f" stroke-width="1"/>
<line x1="222.71" x2="222.71" y1="488.05" y2="476.10" stroke="#d4495f" stroke-width="1"/>
<line x1="226.01" x2="226.01" y1="488.05" y2="475.81" stroke="#d4495f" stroke-width="1"/>
<line x1="229.31" x2="229.31" y1="488.05" y2="478.00" stroke="#d4495f" stroke-width="1"/>
<line x1="232.61" x2="232.61" y1="488.05" y2="477.79" stroke="#d4495f" stroke-width="1"/>
<line x1="235.92" x2="235.92" y1="488.05" y2="480.62" stroke="#d4495f" stroke-width="1"/>
<line x1="239.22" x2="239.22" y1="488.05" y2="480.67" stroke="#d4495f" stroke-width="1"/>
<line x1="242.52" x2="242.52" y1="488.05" y2="481.65" stroke="#d4495f" stroke-width="1"/>
<line x1="245.82" x2="245.82" y1="488.05" y2="484.64" stroke="#d4495f" stroke-width="1"/>
<line x1="249.12" x2="249.12" y1="488.05" y2="486.04" stroke="#d4495f" stroke-width="1"/>
<line x1="252.43" x2="252.43" y1="488.05" y2="486.76" stroke="#d4495f" stroke-width="1"/>
<line x1="255.73" x2="255.73" y1="488.05" y2="492.19" stroke="#1f9f88" stroke-width="1"/>
<line x1="259.03" x2="259.03" y1="488.05" y2="496.28" stroke="#1f9f88" stroke-width="1"/>
<line x1="262.34" x2="262.34" y1="488.05" y2="499.37" stroke="#1f9f88" stroke-width="1"/>
<line x1="265.64" x2="265.64" y1="488.05" y2="500.15" stroke="#1f9f88" stroke-width="1"/>
<line x1="268.94" x2="268.94" y1="488.05" y2="500.14" stroke="#1f9f88" stroke-width="1"/>
<line x1="272.24" x2="272.24" y1="488.05" y2="500.10" stroke="#1f9f88" stroke-width="1"/>
<line x1="275.55" x2="275.55" y1="488.05" y2="503.18" stroke="#1f9f88" stroke-width="1"/>
<line x1="278.85" x2="278.85" y1="488.05" y2="502.45" stroke="#1f9f88" stroke-width="1"/>
<line x1="282.15" x2="282.15" y1="488.05" y2="502.75" stroke="#1f9f88" stroke-width="1"/>
<line x1="285.45" x2="285.45" y1="488.05" y2="502.60" stroke="#1f9f88" stroke-width="1"/>
<line x1="288.75" x2="288.75" y1="488.05" y2="500.61" stroke="#1f9f88" stroke-width="1"/>
<line x1="292.06" x2="292.06" y1="488.05" y2="499.58" stroke="#1f9f88" stroke-width="1"/>
<line x1="295.36" x2="295.36" y1="488.05" y2="498.93" stroke="#1f9f88" stroke-width="1"/>
<line x1="298.66" x2="298.66" y1="488.05" y2="495.71" stroke="#1f9f88" stroke-width="1"/>
<line x1="301.97" x2="301.97" y1="488.05" y2="492.56" stroke="#1f9f88" stroke-width="1"/>
<line x1="305.27" x2="305.27" y1="488.05" y2="492.18" stroke="#1f9f88" stroke-width="1"/>
<line x1="308.57" x2="308.57" y1="488.05" y2="490.42" stroke="#1f9f88" stroke-width="1"/>
<line x1="311.87" x2="311.87" y1="488.05" y2="487.54" stroke="#d4495f" stroke-width="1"/>
<line x1="315.18" x2="315.18" y1="488.05" y2="486.59" stroke="#d4495f" stroke-width="1"/>
<line x1="318.48" x2="318.48" y1="488.05" y2="483.67" stroke="#d4495f" stroke-width="1"/>
<line x1="321.78" x2="321.78" y1="488.05" y2="481.59" stroke="#d4495f" stroke-width="1"/>
<line x1="325.08" x2="325.08" y1="488.05" y2="481.13" stroke="#d4495f" stroke-width="1"/>
<line x1="328.38" x2="328.38" y1="488.05" y2="484.22" stroke="#d4495f" stroke-width="1"/>
<line x1="331.69" x2="331.69" y1="488.05" y2="489.94" stroke="#1f9f88" stroke-width="1"/>
<line x1="334.99" x2="334.99" y1="488.05" y2="493.34" stroke="#1f9f88" stroke-width="1"/>
<line x1="338.29" x2="338.29" y1="488.05" y2="494.30" stroke="#1f9f88" stroke-width="1"/>
<line x1="341.60" x2="341.60" y1="488.05" y2="494.10" stroke="#1f9f88" stroke-width="1"/>
<line x1="344.90" x2="344.90" y1="488.05" y2="495.37" stroke="#1f9f88" stroke-width="1"/>
<line x1="348.20" x2="348.20" y1="488.05" y2="495.64" stroke="#1f9f88" stroke-width="1"/>
<line x1="351.50" x2="351.50" y1="488.05" y2="496.65" stroke="#1f9f88" stroke-width="1"/>
<line x1="354.81" x2="354.81" y1="488.05" y2="495.42" stroke="#1f9f88" stroke-width="1"/>
<line x1="358.11" x2="358.11" y1="488.05" y2="495.94" stroke="#1f9f88" stroke-width="1"/>
<line x1="361.41" x2="361.41" y1="488.05" y2="494.08" stroke="#1f9f88" stroke-width="1"/>
<line x1="364.71" x2="364.71" y1="488.05" y2="491.28" stroke="#1f9f88" stroke-width="1"/>
<line x1="368.02" x2="368.02" y1="488.05" y2="494.91" stroke="#1f9f88" stroke-width="1"/>
<line x1="371.32" x2="371.32" y1="488.05" y2="495.75" stroke="#1f9f88" stroke-width="1"/>
<line x1="374.62" x2="374.62" y1="488.05" y2="495.59" stroke="#1f9f88" stroke-width="1"/>
<line x1="377.92" x2="377.92" y1="488.05" y2="494.58" stroke="#1f9f88" stroke-width="1"/>
<line x1="381.23" x2="381.23" y1="488.05" y2="495.08" stroke="#1f9f88" stroke-width="1"/>
<line x1="384.53" x2="384.53" y1="488.05" y2="493.02" stroke="#1f9f88" stroke-width="1"/>
<line x1="387.83" x2="387.83" y1="488.05" y2="492.38" stroke="#1f9f88" stroke-width="1"/>
<line x1="391.13" x2="391.13" y1="488.05" y2="491.04" stroke="#1f9f88" stroke-width="1"/>
<line x1="394.44" x2="394.44" y1="488.05" y2="490.09" stroke="#1f9f88" stroke-width="1"/>
<line x1="397.74" x2="397.74" y1="488.05" y2="487.26" stroke="#d4495f" stroke-width="1"/>
<line x1="401.04" x2="401.04" y1="488.05" y2="488.05" stroke="#d4495f" stroke-width="1"/>
<line x1="404.34" x2="404.34" y1="488.05" y2="487.69" stroke="#d4495f" stroke-width="1"/>
<line x1="407.65" x2="407.65" y1="488.05" y2="488.45" stroke="#1f9f88" stroke-width="1"/>
<line x1="410.95" x2="410.95" y1="488.05" y2="490.29" stroke="#1f9f88" stroke-width="1"/>
<line x1="414.25" x2="414.25" y1="488.05" y2="489.35" stroke="#1f9f88" stroke-width="1"/>
<line x1="417.55" x2="417.55" y1="488.05" y2="488.69" stroke="#1f9f88" stroke-width="1"/>
<line x1="420.86" x2="420.86" y1="488.05" y2="487.83" stroke="#d4495f" stroke-width="1"/>
<line x1="424.16" x2="424.16" y1="488.05" y2="487.43" stroke="#d4495f" stroke-width="1"/>
<line x1="427.46" x2="427.46" y1="488.05" y2="485.43" stroke="#d4495f" stroke-width="1"/>
<line x1="430.76" x2="430.76" y1="488.05" y2="484.28" stroke="#d4495f" stroke-width="1"/>
<line x1="434.06" x2="434.06" y1="488.05" y2="481.36" stroke="#d4495f" stroke-width="1"/>
<line x1="437.37" x2="437.37" y1="488.05" y2="482.09" stroke="#d4495f" stroke-width="1"/>
<line x1="440.67" x2="440.67" y1="488.05" y2="482.52" stroke="#d4495f" stroke-width="1"/>
<line x1="443.97" x2="443.97" y1="488.05" y2="482.60" stroke="#d4495f" stroke-width="1"/>
<line x1="447.28" x2="447.28" y1="488.05" y2="480.07" stroke="#d4495f" stroke-width="1"/>
<line x1="450.58" x2="450.58" y1="488.05" y2="479.19" stroke="#d4495f" stroke-width="1"/>
<line x1="453.88" x2="453.88" y1="488.05" y2="478.44" stroke="#d4495f" stroke-width="1"/>
<line x1="457.18" x2="457.18" y1="488.05" y2="475.49" stroke="#d4495f" stroke-width="1"/>
<line x1="460.49" x2="460.49" y1="488.05" y2="475.06" stroke="#d4495f" stroke-width="1"/>
<line x1="463.79" x2="463.79" y1="488.05" y2="476.55" stroke="#d4495f" stroke-width="1"/>
<line x1="467.09" x2="467.09" y1="488.05" y2="481.25" stroke="#d4495f" stroke-width="1"/>
<line x1="470.39" x2="470.39" y1="488.05" y2="485.04" stroke="#d4495f" stroke-width="1"/>
<line x1="473.70" x2="473.70" y1="488.05" y2="486.90" stroke="#d4495f" stroke-width="1"/>
<line x1="477.00" x2="477.00" y1="488.05" y2="489.10" stroke="#1f9f88" stroke-width="1"/>
<line x1="480.30" x2="480.30" y1="488.05" y2="492.85" stroke="#1f9f88" stroke-width="1"/>
<line x1="483.60" x2="483.60" y1="488.05" y2="493.62" stroke="#1f9f88" stroke-width="1"/>
<line x1="486.91" x2="486.91" y1="488.05" y2="494.19" stroke="#1f9f88" stroke-width="1"/>
<line x1="490.21" x2="490.21" y1="488.05" y2="492.60" stroke="#1f9f88" stroke-width="1"/>
<line x1="493.51" x2="493.51" y1="488.05" y2="489.06" stroke="#1f9f88" stroke-width="1"/>
<line x1="496.81" x2="496.81" y1="488.05" y2="487.05" stroke="#d4495f" stroke-width="1"/>
<line x1="500.12" x2="500.12" y1="488.05" y2="486.18" stroke="#d4495f" stroke-width="1"/>
<line x1="503.42" x2="503.42" y1="488.05" y2="488.13" stroke="#1f9f88" stroke-width="1"/>
<line x1="506.72" x2="506.72" y1="488.05" y2="490.82" stroke="#1f9f88" stroke-width="1"/>
<line x1="510.02" x2="510.02" y1="488.05" y2="493.01" stroke="#1f9f88" stroke-width="1"/>
<line x1="513.33" x2="513.33" y1="488.05" y2="491.26" stroke="#1f9f88" stroke-width="1"/>
<line x1="516.63" x2="516.63" y1="488.05" y2="489.87" stroke="#1f9f88" stroke-width="1"/>
<line x1="519.93" x2="519.93" y1="488.05" y2="486.30" stroke="#d4495f" stroke-width="1"/>
<line x1="523.23" x2="523.23" y1="488.05" y2="484.74" stroke="#d4495f" stroke-width="1"/>
<line x1="526.54" x2="526.54" y1="488.05" y2="485.26" stroke="#d4495f" stroke-width="1"/>
<line x1="529.84" x2="529.84" y1="488.05" y2="485.32" stroke="#d4495f" stroke-width="1"/>
<line x1="533.14" x2="533.14" y1="488.05" y2="482.21" stroke="#d4495f" stroke-width="1"/>
<line x1="536.44" x2="536.44" y1="488.05" y2="480.97" stroke="#d4495f" stroke-width="1"/>
<line x1="539.75" x2="539.75" y1="488.05" y2="480.09" stroke="#d4495f" stroke-width="1"/>
<line x1="543.05" x2="543.05" y1="488.05" y2="480.26" stroke="#d4495f" stroke-width="1"/>
<line x1="546.35" x2="546.35" y1="488.05" y2="482.85" stroke="#d4495f" stroke-width="1"/>
<line x1="549.65" x2="549.65" y1="488.05" y2="483.13" stroke="#d4495f" stroke-width="1"/>
<line x1="552.96" x2="552.96" y1="488.05" y2="483.39" stroke="#d4495f" stroke-width="1"/>
<line x1="556.26" x2="556.26" y1="488.05" y2="483.62" stroke="#d4495f" stroke-width="1"/>
<line x1="559.56" x2="559.56" y1="488.05" y2="485.61" stroke="#d4495f" stroke-width="1"/>
<line x1="562.86" x2="562.86" y1="488.05" y2="486.19" stroke="#d4495f" stroke-width="1"/>
<line x1="566.16" x2="566.16" y1="488.05" y2="488.06" stroke="#1f9f88" stroke-width="1"/>
<line x1="569.47" x2="569.47" y1="488.05" y2="489.71" stroke="#1f9f88" stroke-width="1"/>
<line x1="572.77" x2="572.77" y1="488.05" y2="491.42" stroke="#1f9f88" stroke-width="1"/>
<line x1="576.07" x2="576.07" y1="488.05" y2="492.41" stroke="#1f9f88" stroke-width="1"/>
<line x1="579.38" x2="579.38" y1="488.05" y2="491.63" stroke="#1f9f88" stroke-width="1"/>
<line x1="582.68" x2="582.68" y1="488.05" y2="492.48" stroke="#1f9f88" stroke-width="1"/>
<line x1="585.98" x2="585.98" y1="488.05" y2="492.42" stroke="#1f9f88" stroke-width="1"/>
<line x1="589.28" x2="589.28" y1="488.05" y2="491.71" stroke="#1f9f88" stroke-width="1"/>
<line x1="592.59" x2="592.59" y1="488.05" y2="491.56" stroke="#1f9f88" stroke-width="1"/>
<line x1="595.89" x2="595.89" y1="488.05" y2="488.40" stroke="#1f9f88" stroke-width="1"/>
<line x1="599.19" x2="599.19" y1="488.05" y2="485.30" stroke="#d4495f" stroke-width="1"/>
<line x1="602.49" x2="602.49" y1="488.05" y2="483.41" stroke="#d4495f" stroke-width="1"/>
<line x1="605.80" x2="605.80" y1="488.05" y2="483.54" stroke="#d4495f" stroke-width="1"/>
<line x1="609.10" x2="609.10" y1="488.05" y2="484.76" stroke="#d4495f" stroke-width="1"/>
<line x1="612.40" x2="612.40" y1="488.05" y2="484.12" stroke="#d4495f" stroke-width="1"/>
<line x1="615.70" x2="615.70" y1="488.05" y2="481.51" stroke="#d4495f" stroke-width="1"/>
<line x1="619.00" x2="619.00" y1="488.05" y2="480.15" stroke="#d4495f" stroke-width="1"/>
<line x1="622.31" x2="622.31" y1="488.05" y2="478.17" stroke="#d4495f" stroke-width="1"/>
<line x1="625.61" x2="625.61" y1="488.05" y2="478.30" stroke="#d4495f" stroke-width="1"/>
<line x1="628.91" x2="628.91" y1="488.05" y2="477.63" stroke="#d4495f" stroke-width="1"/>
<line x1="632.22" x2="632.22" y1="488.05" y2="478.90" stroke="#d4495f" stroke-width="1"/>
<line x1="635.52" x2="635.52" y1="488.05" y2="482.29" stroke="#d4495f" stroke-width="1"/>
<line x1="638.82" x2="638.82" y1="488.05" y2="483.15" stroke="#d4495f" stroke-width="1"/>
<line x1="642.12" x2="642.12" y1="488.05" y2="484.73" stroke="#d4495f" stroke-width="1"/>
<line x1="645.43" x2="645.43" y1="488.05" y2="486.69" stroke="#d4495f" stroke-width="1"/>
<line x1="648.73" x2="648.73" y1="488.05" y2="488.83" stroke="#1f9f88" stroke-width="1"/>
<line x1="652.03" x2="652.03" y1="488.05" y2="490.62" stroke="#1f9f88" stroke-width="1"/>
<line x1="655.33" x2="655.33" y1="488.05" y2="492.08" stroke="#1f9f88" stroke-width="1"/>
<polyline points="-1.87,478.90 1.44,478.97 4.74,479.20 8.04,479.52 11.34,480.05 14.65,480.68 17.95,481.40 21.25,482.12 24.55,482.65 27.86,482.99 31.16,483.43 34.46,484.11 37.77,484.77 41.07,485.34 44.37,485.89 47.67,486.35 50.97,486.84 54.28,487.29 57.58,487.70 60.88,487.95 64.19,488.06 67.49,488.04 70.79,487.82 74.09,487.62 77.39,487.55 80.70,487.50 84.00,487.45 87.30,487.42 90.61,487.49 93.91,487.65 97.21,488.09 100.51,488.69 103.81,489.25 107.12,489.68 110.42,489.97 113.72,490.09 117.03,490.08 120.33,490.00 123.63,489.79 126.93,489.52 130.24,489.25 133.54,488.96 136.84,488.57 140.14,487.83 143.44,486.64 146.75,485.12 150.05,483.31 153.35,481.33 156.66,479.20 159.96,477.08 163.26,475.31 166.56,473.74 169.87,472.51 173.17,471.65 176.47,471.07 179.77,470.76 183.07,470.42 186.38,470.17 189.68,470.17 192.98,470.31 196.29,470.50 199.59,470.64 202.89,470.47 206.19,469.99 209.50,469.14 212.80,467.97 216.10,466.79 219.40,465.38 222.71,463.89 226.01,462.36 229.31,461.11 232.61,459.82 235.92,458.89 239.22,457.97 242.52,457.17 245.82,456.75 249.12,456.49 252.43,456.33 255.73,456.85 259.03,457.88 262.34,459.29 265.64,460.80 268.94,462.32 272.24,463.82 275.55,465.71 278.85,467.51 282.15,469.35 285.45,471.17 288.75,472.74 292.06,474.18 295.36,475.54 298.66,476.50 301.97,477.06 305.27,477.58 308.57,477.88 311.87,477.81 315.18,477.63 318.48,477.08 321.78,476.28 325.08,475.41 328.38,474.93 331.69,475.17 334.99,475.83 338.29,476.61 341.60,477.37 344.90,478.28 348.20,479.23 351.50,480.30 354.81,481.22 358.11,482.21 361.41,482.96 364.71,483.37 368.02,484.23 371.32,485.19 374.62,486.13 377.92,486.95 381.23,487.83 384.53,488.45 387.83,488.99 391.13,489.36 394.44,489.62 397.74,489.52 401.04,489.52 404.34,489.47 407.65,489.52 410.95,489.80 414.25,489.96 417.55,490.04 420.86,490.02 424.16,489.94 427.46,489.61 430.76,489.14 434.06,488.31 437.37,487.56 440.67,486.87 443.97,486.19 447.28,485.19 450.58,484.08 453.88,482.88 457.18,481.31 460.49,479.69 463.79,478.25 467.09,477.40 470.39,477.02 473.70,476.88 477.00,477.01 480.30,477.61 483.60,478.31 486.91,479.08 490.21,479.64 493.51,479.77 496.81,479.64 500.12,479.41 503.42,479.42 506.72,479.77 510.02,480.39 513.33,480.79 516.63,481.02 519.93,480.80 523.23,480.38 526.54,480.03 529.84,479.69 533.14,478.96 536.44,478.08 539.75,477.08 543.05,476.11 546.35,475.46 549.65,474.85 552.96,474.26 556.26,473.71 559.56,473.40 562.86,473.17 566.16,473.17 569.47,473.38 572.77,473.80 576.07,474.35 579.38,474.80 582.68,475.35 585.98,475.90 589.28,476.35 592.59,476.79 595.89,476.84 599.19,476.49 602.49,475.91 605.80,475.35 609.10,474.94 612.40,474.45 615.70,473.63 619.00,472.64 622.31,471.41 625.61,470.19 628.91,468.88 632.22,467.74 635.52,467.02 638.82,466.41 642.12,465.99 645.43,465.82 648.73,465.92 652.03,466.24 655.33,466.74" fill="none" stroke="#e3a92b" stroke-width="1.1"/>
<polyline points="-1.87,478.20 1.44,479.25 4.74,480.11 8.04,480.81 11.34,482.16 14.65,483.19 17.95,484.29 21.25,485.01 24.55,484.77 27.86,484.35 31.16,485.21 34.46,486.83 37.77,487.41 41.07,487.60 44.37,488.10 47.67,488.16 50.97,488.83 54.28,489.07 57.58,489.36 60.88,488.97 64.19,488.46 67.49,487.96 70.79,486.95 74.09,486.80 77.39,487.31 80.70,487.28 84.00,487.27 87.30,487.31 90.61,487.77 93.91,488.30 97.21,489.85 100.51,491.06 103.81,491.50 107.12,491.41 110.42,491.13 113.72,490.57 117.03,490.06 120.33,489.68 123.63,488.91 126.93,488.47 130.24,488.18 133.54,487.77 136.84,487.04 140.14,484.86 143.44,481.87 146.75,479.03 150.05,476.07 153.35,473.40 156.66,470.69 159.96,468.63 163.26,468.22 166.56,467.45 169.87,467.60 173.17,468.22 176.47,468.74 179.77,469.51 183.07,469.08 186.38,469.18 189.68,470.16 192.98,470.84 196.29,471.28 199.59,471.19 202.89,469.81 206.19,468.07 209.50,465.72 212.80,463.29 216.10,462.07 219.40,459.77 222.71,457.92 226.01,456.24 229.31,456.08 232.61,454.70 235.92,455.18 239.22,454.28 242.52,453.97 245.82,455.04 249.12,455.49 252.43,455.69 255.73,458.92 259.03,461.99 262.34,464.95 265.64,466.85 268.94,468.36 272.24,469.85 275.55,473.28 278.85,474.72 282.15,476.70 285.45,478.45 288.75,479.02 292.06,479.95 295.36,480.98 298.66,480.33 301.97,479.32 305.27,479.64 308.57,479.06 311.87,477.56 315.18,476.90 318.48,474.89 321.78,473.05 325.08,471.95 328.38,473.02 331.69,476.11 334.99,478.47 338.29,479.73 341.60,480.39 344.90,481.94 348.20,483.03 351.50,484.60 354.81,484.91 358.11,486.15 361.41,485.98 364.71,484.98 368.02,487.65 371.32,489.04 374.62,489.90 377.92,490.21 381.23,491.34 384.53,490.93 387.83,491.15 391.13,490.86 394.44,490.64 397.74,489.12 401.04,489.52 404.34,489.29 407.65,489.72 410.95,490.92 414.25,490.61 417.55,490.37 420.86,489.91 424.16,489.63 427.46,488.30 430.76,487.25 434.06,484.96 437.37,484.58 440.67,484.10 443.97,483.46 447.28,481.20 450.58,479.65 453.88,478.08 457.18,475.03 460.49,473.19 463.79,472.50 467.09,474.00 470.39,475.52 473.70,476.30 477.00,477.54 480.30,480.01 483.60,481.10 486.91,482.15 490.21,481.92 493.51,480.27 496.81,479.14 500.12,478.47 503.42,479.46 506.72,481.15 510.02,482.87 513.33,482.40 516.63,481.93 519.93,479.92 523.23,478.73 526.54,478.64 529.84,478.33 533.14,476.04 536.44,474.54 539.75,473.11 543.05,472.21 546.35,472.86 549.65,472.39 552.96,471.93 556.26,471.50 559.56,472.19 562.86,472.24 566.16,473.18 569.47,474.21 572.77,475.49 576.07,476.53 579.38,476.59 582.68,477.56 585.98,478.08 589.28,478.18 592.59,478.55 595.89,477.01 599.19,475.12 602.49,473.59 605.80,473.09 609.10,473.29 612.40,472.48 615.70,470.36 619.00,468.69 622.31,466.46 625.61,465.31 628.91,463.68 632.22,463.16 635.52,464.14 638.82,463.96 642.12,464.33 645.43,465.14 648.73,466.31 652.03,467.52 655.33,468.76" fill="none" stroke="#b447d6" stroke-width="1.1"/>
</g>
<rect x="1.6" y="0" width="1.4" height="548" fill="#07090d"/>
<rect x="882.5" y="0" width="1.5" height="548" fill="#07090d"/>
<rect x="0" y="0" width="1080" height="0.9" fill="#07090d"/>
<line x1="885" x2="1080" y1="63.5" y2="63.5" stroke="#232835" stroke-width="1"/>
<rect x="885" y="204.2" width="195" height="2" fill="#07090d"/>
<line x1="885" x2="1080" y1="235.8" y2="235.8" stroke="#232835" stroke-width="1"/>
<rect x="901.1" y="233.1" width="9.6" height="2.4" fill="#3b8cf0"/>
<polyline points="1012.8,200 1016.5,196.3 1020.2,200" fill="none" stroke="#8a92a2" stroke-width="1.3"/>
</svg>
<svg width="1080" height="548" style="position:absolute;left:0;top:0">
<g fill="none" stroke="#8a93a6" stroke-width="1.3">
<line x1="646.5" y1="18.5" x2="654.3" y2="10.6"/>
<path d="M675.9 19.8 L681.7 11.3 L687.5 19.8 Z" stroke-linejoin="miter"/>
<line x1="709" y1="19.8" x2="718.3" y2="10.6"/><polyline points="712.8,10.6 718.3,10.6 718.3,16.1"/>
<line x1="786.5" y1="11.5" x2="786.5" y2="20.3" stroke="#2a303c"/>
<line x1="852.5" y1="11.5" x2="852.5" y2="20.3" stroke="#2a303c"/>
<path d="M860.5 13.5v-2.7h2.7 M867.5 10.8h2.7v2.7 M870.2 17.5v2.7h-2.7 M863.2 20.2h-2.7v-2.7" stroke="#a6b0c6" stroke-width="1.5"/>
</g>
<g fill="#8a93a6">
<rect x="644.3" y="17.2" width="3.4" height="3.4"/>
<path d="M657.8 13.3h4.8l-2.4 3z"/><path d="M691.8 13.3h4.8l-2.4 3z"/><path d="M722.1 13.3h4.8l-2.4 3z"/>
<path d="M740 10.8h9.2v2.2h-1.2v-0.8h-2.3v8h1.2v1.2h-4.6v-1.2h1.2v-8h-2.3v0.8h-1.2z"/>
<rect x="768.3" y="10.6" width="5.2" height="1.5"/><rect x="768.3" y="13" width="5.2" height="1.5"/><rect x="768.3" y="15.4" width="5.2" height="1.5"/>
<rect x="761.5" y="18" width="12" height="2.5"/>
<path d="M794.4 15.2 Q800.8 8.2 807.2 15.2 Q800.8 22.2 794.4 15.2Z" fill="#a6b0c6"/>
<circle cx="800.8" cy="15.2" r="2.6" fill="#171c27"/>
<circle cx="801.6" cy="14.6" r="1.5" fill="#a6b0c6"/>
<path d="M815.8 11.5h9.4v1.4h-9.4z M818.8 10h3.4v1.5h-3.4z M816.8 13.3h7.4l-0.7 7h-6z" fill="#8d97ad"/><path d="M819.3 14.6v4.6M821.7 14.6v4.6" stroke="#2a3040" stroke-width="0.9"/>
<circle cx="838.8" cy="15.2" r="5.5" fill="#a6b0c6"/>
<rect x="838.1" y="14" width="1.4" height="4.6" fill="#2a2f3c"/><rect x="838.1" y="11.6" width="1.4" height="1.4" fill="#2a2f3c"/>
</g>
<text x="761.6" y="17.4" font-family="Liberation Sans" font-weight="700" font-size="8.2" fill="#8a93a6">G</text>
<g fill="#8f99ad">
<polygon points="846.99,433.01 848.22,433.09 848.94,434.38 849.74,434.92 851.21,435.09 851.75,436.19 850.99,437.46 850.93,438.42 851.52,439.78 850.83,440.80 849.36,440.78 848.49,441.20 847.61,442.39 846.38,442.31 845.66,441.02 844.86,440.48 843.39,440.31 842.85,439.21 843.61,437.94 843.67,436.98 843.08,435.62 843.77,434.60 845.24,434.62 846.11,434.20"/>
<circle cx="866.5" cy="437.7" r="4.75"/>
</g>
<circle cx="847.3" cy="437.7" r="1.5" fill="#171c27"/>
<path d="M864.8 436l3.4 3.4M868.2 436l-3.4 3.4" stroke="#2a303c" stroke-width="1.3"/>
<g fill="none" stroke="#8a93a6" stroke-width="1.3">
<path d="M861.6 39.2a4.5 4.5 0 0 1 8.6 -1.6"/><path d="M870.4 40.8a4.5 4.5 0 0 1 -8.6 1.6"/>
</g>
<path d="M868.3 38.6l3.2 0.2l-0.6-3.2z M863.7 41.4l-3.2-0.2l0.6 3.2z" fill="#8a93a6"/>
<path d="M513 13.6h4.6l-2.3 2.8z" fill="#9aa2b2"/>
<line x1="468.5" y1="11" x2="468.5" y2="19.5" stroke="#3a404c" stroke-width="1"/>
<path d="M982 45.5l5-6 5 6h-3v5h-4v-5z" fill="#ec4a60"/>
</svg>
<div class="t" style="left:12.8px;top:9.6px;font-size:11px;color:#9aa2b2;font-weight:500;">分时</div><div class="t" style="left:44.5px;top:9.6px;font-size:11px;color:#3b8cf0;font-weight:500;">日线</div><div class="t" style="left:75.5px;top:9.6px;font-size:11px;color:#9aa2b2;font-weight:500;">周线</div><div class="t" style="left:106.8px;top:9.6px;font-size:11px;color:#9aa2b2;font-weight:500;">月线</div><div class="t" style="left:138.8px;top:9.6px;font-size:11px;color:#9aa2b2;font-weight:500;">1分</div><div class="t" style="left:165.5px;top:9.6px;font-size:11px;color:#9aa2b2;font-weight:500;">3分</div><div class="t" style="left:192.8px;top:9.6px;font-size:11px;color:#9aa2b2;font-weight:500;">5分</div><div class="t" style="left:219.5px;top:9.6px;font-size:11px;color:#9aa2b2;font-weight:500;">10分</div><div class="t" style="left:252.8px;top:9.6px;font-size:11px;color:#9aa2b2;font-weight:500;">15分</div><div class="t" style="left:286.2px;top:9.6px;font-size:11px;color:#9aa2b2;font-weight:500;">30分</div><div class="t" style="left:319.5px;top:9.6px;font-size:11px;color:#9aa2b2;font-weight:500;">1小时</div><div class="t" style="left:356.8px;top:9.6px;font-size:11px;color:#9aa2b2;font-weight:500;">2小时</div><div class="t" style="left:394.5px;top:9.6px;font-size:11px;color:#9aa2b2;font-weight:500;">3小时</div><div class="t" style="left:431.8px;top:9.6px;font-size:11px;color:#9aa2b2;font-weight:500;">4小时</div><div class="t" style="left:475.2px;top:9.6px;font-size:11px;color:#b4b9c4;font-weight:500;">单周期</div><div class="t" style="left:15.0px;top:34.6px;font-size:11px;color:#e4e6ea;font-weight:700;">MA</div><div class="t" style="left:40.0px;top:34.6px;font-size:11px;color:#c9ccd3;-webkit-text-stroke:0.25px currentColor;letter-spacing:-0.35px;">MA5: 2651.20</div><div class="t" style="left:113.3px;top:34.6px;font-size:11px;color:#eeb32b;-webkit-text-stroke:0.25px currentColor;letter-spacing:-0.35px;">MA10: 2654.17</div><div class="t" style="left:192.7px;top:34.6px;font-size:11px;color:#c353d8;-webkit-text-stroke:0.25px currentColor;letter-spacing:-0.35px;">MA20: 2619.74</div><div class="t" style="left:271.7px;top:34.6px;font-size:11px;color:#27b19e;-webkit-text-stroke:0.25px currentColor;letter-spacing:-0.35px;">MA60: 2513.26</div><div class="t" style="right:227.1px;top:34.8px;font-size:11px;color:#9aa2b2;font-weight:500;letter-spacing:-0.5px;">最后更新: 09:53:38</div><div class="t" style="right:200.6px;top:58.4px;font-size:10.5px;color:#8d95a5;letter-spacing:-0.55px;">2714.85</div><div class="t" style="right:200.6px;top:173.4px;font-size:10.5px;color:#8d95a5;letter-spacing:-0.55px;">2464.85</div><div class="t" style="right:200.6px;top:288.7px;font-size:10.5px;color:#8d95a5;letter-spacing:-0.55px;">2214.85</div><div class="t" style="right:200.6px;top:404.5px;font-size:10.5px;color:#8d95a5;letter-spacing:-0.55px;">1964.85</div><div class="t" style="right:203.2px;top:270.9px;font-size:11px;color:#eef0f3;letter-spacing:-0.55px;">2257.60</div><div class="t" style="right:466.7px;top:68.8px;font-size:11.3px;color:#d8dade;letter-spacing:-0.3px;">2685.53</div><div class="t" style="left:117.6px;top:396.5px;font-size:11.3px;color:#d8dade;letter-spacing:-0.3px;">1984.19</div><div class="t" style="left:716.2px;top:398.2px;font-size:24px;color:#252b38;font-weight:500;letter-spacing:1.4px;">口袋贵金属</div><div class="t" style="left:15.0px;top:431.6px;font-size:11px;color:#d0d3d9;-webkit-text-stroke:0.25px currentColor;letter-spacing:-0.35px;">MACD(12, 26, 9)</div><div class="t" style="left:100.8px;top:431.6px;font-size:11px;color:#d68a45;-webkit-text-stroke:0.25px currentColor;letter-spacing:-0.35px;">MACD:-7.36</div><div class="t" style="left:165.8px;top:431.6px;font-size:11px;color:#bb4fd6;-webkit-text-stroke:0.25px currentColor;letter-spacing:-0.55px;">DIF:36.98</div><div class="t" style="left:218.3px;top:431.6px;font-size:11px;color:#e6ad2d;-webkit-text-stroke:0.25px currentColor;letter-spacing:-0.65px;">DEA:40.66</div><div class="t" style="right:200.6px;top:448.1px;font-size:10.5px;color:#8d95a5;letter-spacing:-0.55px;">65.12</div><div class="t" style="right:200.6px;top:482.2px;font-size:10.5px;color:#8d95a5;letter-spacing:-0.55px;">0.00</div><div class="t" style="right:200.6px;top:516.3px;font-size:10.5px;color:#8d95a5;letter-spacing:-0.55px;">-65.12</div><div class="t" style="left:58.3px;top:531.2px;font-size:10.5px;color:#8d95a5;letter-spacing:-0.15px;">2024-02-07</div><div class="t" style="left:233.3px;top:531.2px;font-size:10.5px;color:#8d95a5;letter-spacing:-0.15px;">2024-04-23</div><div class="t" style="left:408.3px;top:531.2px;font-size:10.5px;color:#8d95a5;letter-spacing:-0.15px;">2024-07-05</div><div class="t" style="left:583.3px;top:531.2px;font-size:10.5px;color:#8d95a5;letter-spacing:-0.15px;">2024-09-20</div><div class="t" style="left:622.2px;top:529px;width:66.7px;height:16.2px;background:#2a303c"></div><div class="t" style="left:629.4px;top:531.4px;font-size:10.7px;color:#eceef2;-webkit-text-stroke:0.25px #eceef2;letter-spacing:-0.2px;">2024-10-08</div><div class="t" style="left:894.4px;top:11.2px;font-size:13px;color:#dcdfe5;font-weight:500;">现货黄金</div><div class="t" style="left:895.0px;top:33.6px;font-size:22.5px;color:#ec4a60;font-weight:700;letter-spacing:-0.35px;">2645.12</div><div class="t" style="left:1000.4px;top:40.1px;font-size:12px;color:#ec4a60;font-weight:700;">+2.59</div><div class="t" style="left:1037.0px;top:40.1px;font-size:12px;color:#ec4a60;font-weight:700;">+0.10%</div><div class="t" style="left:894.4px;top:71.4px;font-size:10px;color:#a3a9b6;font-weight:500;">买入</div><div class="t" style="right:81.5px;top:70.9px;font-size:11px;color:#e6e8ec;font-weight:700;letter-spacing:-0.3px;">2645.12</div><div class="t" style="left:1034.6px;top:71.4px;font-size:10px;color:#a3a9b6;font-weight:500;">卖出</div><div class="t" style="left:894.4px;top:89.3px;font-size:10px;color:#a3a9b6;font-weight:500;">最高</div><div class="t" style="right:81.5px;top:88.9px;font-size:11px;color:#ec4a60;font-weight:700;letter-spacing:-0.3px;">2649.05</div><div class="t" style="left:1034.6px;top:89.3px;font-size:10px;color:#a3a9b6;font-weight:500;">最低</div><div class="t" style="left:894.4px;top:107.3px;font-size:10px;color:#a3a9b6;font-weight:500;">昨收</div><div class="t" style="right:81.5px;top:106.8px;font-size:11px;color:#e6e8ec;font-weight:700;letter-spacing:-0.3px;">2642.53</div><div class="t" style="left:1034.6px;top:107.3px;font-size:10px;color:#a3a9b6;font-weight:500;">今开</div><div class="t" style="left:894.4px;top:125.2px;font-size:10px;color:#a3a9b6;font-weight:500;">涨停价</div><div class="t" style="right:79.1px;top:124.8px;font-size:11px;color:#e6e8ec;font-weight:700;letter-spacing:2.4px;">--</div><div class="t" style="left:1034.6px;top:125.2px;font-size:10px;color:#a3a9b6;font-weight:500;">跌停价</div><div class="t" style="left:894.4px;top:143.2px;font-size:10px;color:#a3a9b6;font-weight:500;">历史最高</div><div class="t" style="right:81.5px;top:142.7px;font-size:11px;color:#e6e8ec;font-weight:700;letter-spacing:-0.3px;">2685.53</div><div class="t" style="left:1034.6px;top:143.2px;font-size:10px;color:#a3a9b6;font-weight:500;">历史最低</div><div class="t" style="left:894.4px;top:161.2px;font-size:10px;color:#a3a9b6;font-weight:500;">52周最高</div><div class="t" style="right:81.5px;top:160.7px;font-size:11px;color:#e6e8ec;font-weight:700;letter-spacing:-0.3px;">2685.53</div><div class="t" style="left:1034.6px;top:161.2px;font-size:10px;color:#a3a9b6;font-weight:500;">52周最低</div><div class="t" style="left:894.4px;top:179.1px;font-size:10px;color:#a3a9b6;font-weight:500;">点差</div><div class="t" style="right:81.5px;top:178.6px;font-size:11px;color:#e6e8ec;font-weight:700;letter-spacing:-0.3px;">0.20</div><div class="t" style="left:1034.6px;top:179.1px;font-size:10px;color:#a3a9b6;font-weight:500;">振幅</div><div class="t" style="left:893.9px;top:215.2px;font-size:11.5px;color:#3b8cf0;font-weight:500;">分笔</div><div class="t" style="left:933.9px;top:215.2px;font-size:11.5px;color:#cfd2d9;font-weight:500;">分析</div><div class="t" style="left:973.1px;top:215.2px;font-size:11.5px;color:#cfd2d9;font-weight:500;">规则</div>
<div id="ticks"><div class="t" style="left:9.4px;top:-4.0px;font-size:11px;letter-spacing:-0.55px;color:#9ea4b0">09:53:27</div><div class="t" style="right:25.2px;top:-4.0px;font-size:11px;letter-spacing:-0.2px;color:#dd4a5f">2644.82</div><div class="t" style="left:9.4px;top:19.1px;font-size:11px;letter-spacing:-0.55px;color:#9ea4b0">09:53:28</div><div class="t" style="right:25.2px;top:19.1px;font-size:11px;letter-spacing:-0.2px;color:#dd4a5f">2644.80</div><div class="t" style="left:9.4px;top:42.3px;font-size:11px;letter-spacing:-0.55px;color:#9ea4b0">09:53:28</div><div class="t" style="right:25.2px;top:42.3px;font-size:11px;letter-spacing:-0.2px;color:#dd4a5f">2644.97</div><div class="t" style="left:9.4px;top:65.4px;font-size:11px;letter-spacing:-0.55px;color:#9ea4b0">09:53:29</div><div class="t" style="right:25.2px;top:65.4px;font-size:11px;letter-spacing:-0.2px;color:#dd4a5f">2644.95</div><div class="t" style="left:9.4px;top:88.6px;font-size:11px;letter-spacing:-0.55px;color:#9ea4b0">09:53:30</div><div class="t" style="right:25.2px;top:88.6px;font-size:11px;letter-spacing:-0.2px;color:#dd4a5f">2644.98</div><div class="t" style="left:9.4px;top:111.8px;font-size:11px;letter-spacing:-0.55px;color:#9ea4b0">09:53:31</div><div class="t" style="right:25.2px;top:111.8px;font-size:11px;letter-spacing:-0.2px;color:#dd4a5f">2645.00</div><div class="t" style="left:9.4px;top:134.9px;font-size:11px;letter-spacing:-0.55px;color:#9ea4b0">09:53:31</div><div class="t" style="right:25.2px;top:134.9px;font-size:11px;letter-spacing:-0.2px;color:#dd4a5f">2645.03</div><div class="t" style="left:9.4px;top:158.0px;font-size:11px;letter-spacing:-0.55px;color:#9ea4b0">09:53:32</div><div class="t" style="right:25.2px;top:158.0px;font-size:11px;letter-spacing:-0.2px;color:#dd4a5f">2645.19</div><div class="t" style="left:9.4px;top:181.2px;font-size:11px;letter-spacing:-0.55px;color:#9ea4b0">09:53:32</div><div class="t" style="right:25.2px;top:181.2px;font-size:11px;letter-spacing:-0.2px;color:#dd4a5f">2645.15</div><div class="t" style="left:9.4px;top:204.4px;font-size:11px;letter-spacing:-0.55px;color:#9ea4b0">09:53:33</div><div class="t" style="right:25.2px;top:204.4px;font-size:11px;letter-spacing:-0.2px;color:#dd4a5f">2645.16</div><div class="t" style="left:9.4px;top:227.5px;font-size:11px;letter-spacing:-0.55px;color:#9ea4b0">09:53:34</div><div class="t" style="right:25.2px;top:227.5px;font-size:11px;letter-spacing:-0.2px;color:#dd4a5f">2645.06</div><div class="t" style="left:9.4px;top:250.6px;font-size:11px;letter-spacing:-0.55px;color:#9ea4b0">09:53:35</div><div class="t" style="right:25.2px;top:250.6px;font-size:11px;letter-spacing:-0.2px;color:#dd4a5f">2645.03</div><div class="t" style="left:9.4px;top:273.8px;font-size:11px;letter-spacing:-0.55px;color:#9ea4b0">09:53:35</div><div class="t" style="right:25.2px;top:273.8px;font-size:11px;letter-spacing:-0.2px;color:#dd4a5f">2645.05</div><div class="t" style="left:9.4px;top:297.0px;font-size:11px;letter-spacing:-0.55px;color:#9ea4b0">09:53:36</div><div class="t" style="right:25.2px;top:297.0px;font-size:11px;letter-spacing:-0.2px;color:#dd4a5f">2645.16</div></div>
</body></html>
